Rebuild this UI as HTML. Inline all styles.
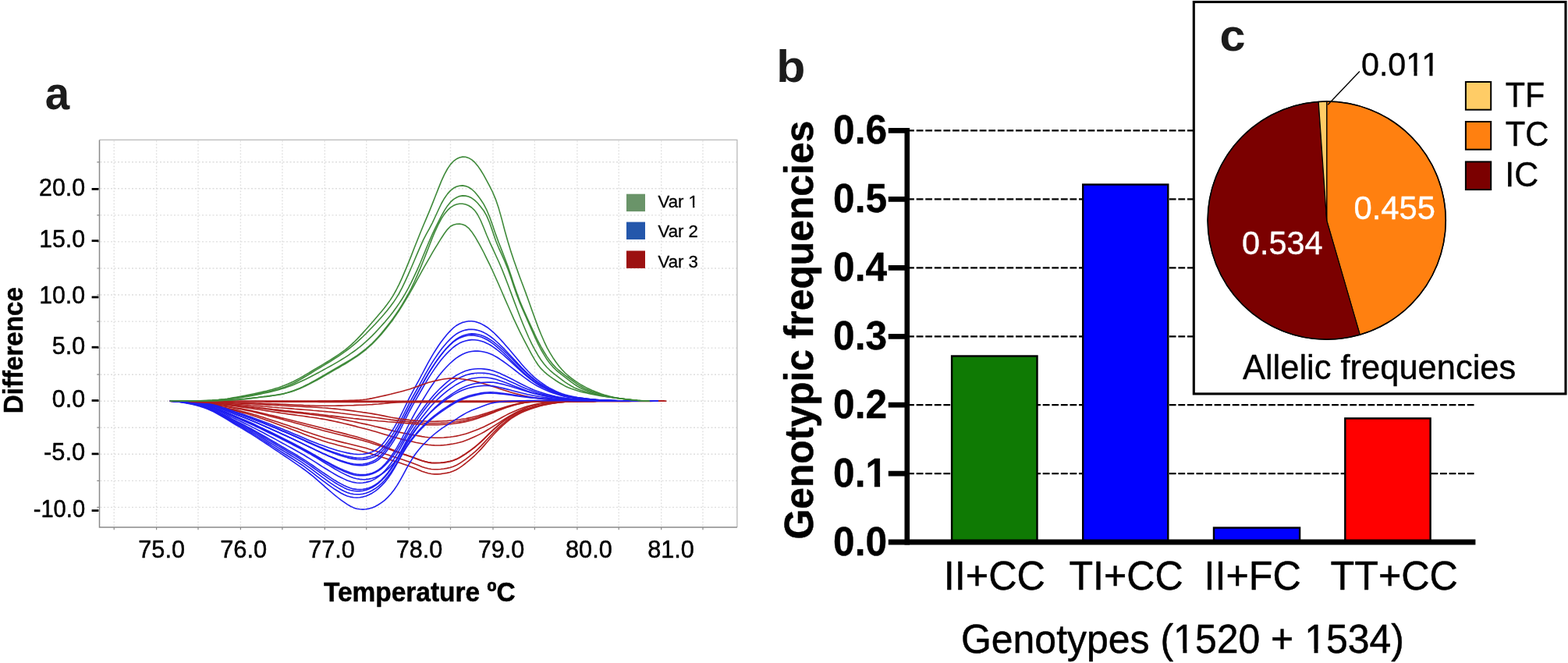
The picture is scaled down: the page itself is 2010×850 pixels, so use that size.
<!DOCTYPE html>
<html lang="en">
<head>
<meta charset="utf-8">
<title>HRM difference curves, genotypic and allelic frequencies</title>
<style>
html,body{margin:0;padding:0;background:#ffffff;}
body{width:2010px;height:850px;overflow:hidden;}
svg{display:block;}
text{font-family:"Liberation Sans",Arial,Helvetica,sans-serif;}
</style>
</head>
<body>
<svg width="2010" height="850" viewBox="0 0 2010 850" role="img" aria-label="Figure with panels a, b and c">
<rect x="0" y="0" width="2010" height="850" fill="#ffffff"/>
<g id="panel-a">
<rect x="127.5" y="179.4" width="817.4" height="496.6" fill="#ffffff" stroke="none"/>
<path d="M146.2 180.4V676.0M200.6 180.4V676.0M254.0 180.4V676.0M308.4 180.4V676.0M361.9 180.4V676.0M416.3 180.4V676.0M469.7 180.4V676.0M524.1 180.4V676.0M577.5 180.4V676.0M632.0 180.4V676.0M685.4 180.4V676.0M739.9 180.4V676.0M793.2 180.4V676.0M847.7 180.4V676.0M901.0 180.4V676.0" fill="none" stroke="#dedede" stroke-width="1.4" stroke-dasharray="1.8 2.2"/>
<path d="M128.5 650.4H944.9M128.5 616.4H944.9M128.5 582.3H944.9M128.5 548.2H944.9M128.5 514.2H944.9M128.5 480.2H944.9M128.5 446.1H944.9M128.5 412.1H944.9M128.5 378.0H944.9M128.5 344.0H944.9M128.5 309.9H944.9M128.5 275.9H944.9M128.5 241.8H944.9M128.5 207.8H944.9" fill="none" stroke="#dedede" stroke-width="1.4" stroke-dasharray="2 2.5"/>
<path d="M217.9 514.2L221.7 514.2L225.6 514.2L229.5 514.1L233.3 514.1L237.2 514.1L241.1 514.0L244.9 513.9L248.8 513.9L252.7 513.8L256.5 513.7L260.4 513.6L264.3 513.5L268.1 513.3L272.0 513.1L275.9 512.8L279.7 512.5L283.6 512.1L287.4 511.7L291.3 511.2L295.2 510.6L299.0 509.9L302.9 509.2L306.8 508.5L310.6 507.8L314.5 507.1L318.4 506.3L322.2 505.5L326.1 504.7L330.0 503.9L333.8 503.0L337.7 502.1L341.6 501.2L345.4 500.2L349.3 499.2L353.2 498.0L357.0 496.9L360.9 495.6L364.8 494.1L368.6 492.6L372.5 490.8L376.4 489.0L380.2 487.0L384.1 484.9L388.0 482.7L391.8 480.4L395.7 478.2L399.6 475.8L403.4 473.5L407.3 471.2L411.2 468.9L415.0 466.6L418.9 464.3L422.8 461.9L426.6 459.5L430.5 457.0L434.4 454.4L438.2 451.7L442.1 448.8L446.0 445.7L449.8 442.3L453.7 438.7L457.6 434.9L461.4 430.9L465.3 426.6L469.2 422.3L473.0 417.9L476.9 413.5L480.8 409.0L484.6 404.6L488.5 400.0L492.4 395.3L496.2 390.3L500.1 384.9L504.0 378.9L507.8 372.0L511.7 364.3L515.6 355.9L519.4 346.9L523.3 337.6L527.2 327.9L531.0 318.0L534.9 308.2L538.8 298.5L542.6 289.2L546.5 280.1L550.4 270.9L554.2 261.4L558.1 251.5L562.0 241.6L565.8 232.1L569.7 223.6L573.6 216.5L577.4 210.9L581.3 206.7L585.2 203.8L589.0 202.0L592.9 201.1L596.8 201.3L600.6 202.4L604.5 204.6L608.4 207.9L612.2 212.4L616.1 218.0L620.0 224.3L623.8 231.3L627.7 238.7L631.6 246.5L635.4 255.6L639.3 267.1L643.2 280.9L647.0 295.5L650.9 309.3L654.8 321.9L658.6 333.6L662.5 344.6L666.3 355.2L670.2 365.5L674.1 375.9L677.9 386.6L681.8 397.5L685.7 408.3L689.5 418.6L693.4 428.3L697.3 437.3L701.1 445.4L705.0 452.4L708.9 458.7L712.7 464.3L716.6 469.4L720.5 474.0L724.3 478.0L728.2 481.5L732.1 484.6L735.9 487.5L739.8 490.1L743.7 492.6L747.5 494.8L751.4 496.9L755.3 498.7L759.1 500.4L763.0 502.0L766.9 503.5L770.7 504.9L774.6 506.2L778.5 507.3L782.3 508.4L786.2 509.3L790.1 510.1L793.9 510.8L797.8 511.3L801.7 511.8L805.5 512.3L809.4 512.7L813.3 513.1L817.1 513.5L821.0 513.8L824.9 514.0L828.7 514.1L832.6 514.2" fill="none" stroke="#3f8a3a" stroke-width="1.6" stroke-linejoin="round"/>
<path d="M217.9 514.2L221.7 514.2L225.6 514.2L229.5 514.2L233.3 514.1L237.2 514.1L241.1 514.0L244.9 514.0L248.8 513.9L252.7 513.8L256.5 513.8L260.4 513.7L264.3 513.6L268.1 513.5L272.0 513.3L275.9 513.0L279.7 512.7L283.6 512.4L287.4 512.0L291.3 511.6L295.2 511.1L299.0 510.5L302.9 509.9L306.8 509.3L310.6 508.7L314.5 508.0L318.4 507.3L322.2 506.6L326.1 505.9L330.0 505.1L333.8 504.3L337.7 503.5L341.6 502.6L345.4 501.8L349.3 500.8L353.2 499.8L357.0 498.8L360.9 497.6L364.8 496.2L368.6 494.7L372.5 493.0L376.4 491.2L380.2 489.2L384.1 487.0L388.0 484.8L391.8 482.5L395.7 480.2L399.6 477.8L403.4 475.4L407.3 473.1L411.2 470.7L415.0 468.4L418.9 466.0L422.8 463.7L426.6 461.3L430.5 458.8L434.4 456.3L438.2 453.6L442.1 450.9L446.0 448.0L449.8 445.1L453.7 441.9L457.6 438.6L461.4 435.1L465.3 431.5L469.2 427.7L473.0 423.8L476.9 419.8L480.8 415.7L484.6 411.5L488.5 407.2L492.4 402.8L496.2 398.2L500.1 393.3L504.0 388.1L507.8 382.4L511.7 376.0L515.6 368.7L519.4 360.6L523.3 352.1L527.2 343.3L531.0 334.3L534.9 325.1L538.8 316.1L542.6 307.7L546.5 300.2L550.4 293.1L554.2 285.8L558.1 277.5L562.0 269.0L565.8 261.0L569.7 254.2L573.6 248.6L577.4 244.4L581.3 241.3L585.2 239.3L589.0 238.2L592.9 237.9L596.8 238.6L600.6 240.0L604.5 242.5L608.4 246.0L612.2 250.5L616.1 255.7L620.0 261.6L623.8 269.0L627.7 278.2L631.6 289.2L635.4 300.4L639.3 311.0L643.2 320.9L647.0 330.7L650.9 341.1L654.8 352.4L658.6 364.2L662.5 375.5L666.3 385.8L670.2 395.0L674.1 403.8L677.9 412.3L681.8 420.7L685.7 429.1L689.5 437.0L693.4 444.3L697.3 451.0L701.1 457.1L705.0 462.6L708.9 467.4L712.7 471.5L716.6 475.0L720.5 478.1L724.3 481.1L728.2 484.0L732.1 486.9L735.9 489.7L739.8 492.3L743.7 494.8L747.5 497.0L751.4 498.9L755.3 500.5L759.1 502.0L763.0 503.3L766.9 504.6L770.7 505.8L774.6 506.9L778.5 507.8L782.3 508.7L786.2 509.5L790.1 510.2L793.9 510.8L797.8 511.3L801.7 511.8L805.5 512.3L809.4 512.7L813.3 513.1L817.1 513.5L821.0 513.8L824.9 514.0L828.7 514.1L832.6 514.2" fill="none" stroke="#3f8a3a" stroke-width="1.6" stroke-linejoin="round"/>
<path d="M217.9 514.2L221.8 514.4L225.8 514.7L229.8 515.0L233.8 515.4L237.8 515.7L241.8 516.2L245.8 516.6L249.8 517.0L253.8 517.5L257.7 518.1L261.7 518.6L265.7 519.2L269.7 519.9L273.7 520.6L277.7 521.4L281.7 522.1L285.7 523.0L289.6 523.8L293.6 524.7L297.6 525.6L301.6 526.6L305.6 527.6L309.6 528.6L313.6 529.6L317.6 530.8L321.6 532.0L325.5 533.2L329.5 534.5L333.5 535.9L337.5 537.3L341.5 538.7L345.5 540.1L349.5 541.6L353.5 543.0L357.5 544.5L361.4 545.9L365.4 547.3L369.4 548.8L373.4 550.3L377.4 551.8L381.4 553.3L385.4 554.8L389.4 556.4L393.3 557.9L397.3 559.4L401.3 560.8L405.3 562.3L409.3 563.6L413.3 565.0L417.3 566.2L421.3 567.4L425.3 568.5L429.2 569.6L433.2 570.7L437.2 571.7L441.2 572.7L445.2 573.7L449.2 574.7L453.2 575.7L457.2 576.7L461.1 577.8L465.1 578.9L469.1 580.0L473.1 581.1L477.1 582.3L481.1 583.5L485.1 584.7L489.1 586.0L493.1 587.2L497.0 588.5L501.0 589.8L505.0 591.0L509.0 592.3L513.0 593.6L517.0 594.9L521.0 596.3L525.0 597.7L529.0 599.2L532.9 600.8L536.9 602.5L540.9 604.2L544.9 605.6L548.9 606.8L552.9 607.5L556.9 607.9L560.9 607.9L564.8 607.6L568.8 607.0L572.8 606.4L576.8 605.5L580.8 604.1L584.8 602.3L588.8 599.9L592.8 597.1L596.8 594.0L600.7 590.8L604.7 587.4L608.7 583.8L612.7 579.8L616.7 575.6L620.7 571.1L624.7 566.4L628.7 561.7L632.7 557.3L636.6 553.1L640.6 549.1L644.6 545.3L648.6 541.8L652.6 538.6L656.6 535.7L660.6 533.3L664.6 531.0L668.5 529.1L672.5 527.3L676.5 525.7L680.5 524.2L684.5 522.9L688.5 521.7L692.5 520.5L696.5 519.5L700.5 518.7L704.4 517.9L708.4 517.2L712.4 516.6L716.4 516.0L720.4 515.6L724.4 515.2L728.4 515.0L732.4 514.8L736.3 514.7L740.3 514.7L744.3 514.6L748.3 514.5L752.3 514.5L756.3 514.4L760.3 514.4L764.3 514.3L768.3 514.3L772.2 514.3L776.2 514.3L780.2 514.2L784.2 514.2L788.2 514.2L792.2 514.2L796.2 514.2L800.2 514.2L804.2 514.2L808.1 514.2L812.1 514.2L816.1 514.2L820.1 514.2L824.1 514.2L828.1 514.2L832.1 514.2L836.1 514.2L840.0 514.2L844.0 514.2L848.0 514.2L852.0 514.2" fill="none" stroke="#b01e1e" stroke-width="1.6" stroke-linejoin="round"/>
<path d="M217.9 514.2L221.8 514.4L225.8 514.7L229.8 514.9L233.8 515.3L237.8 515.6L241.8 516.0L245.8 516.4L249.8 516.8L253.8 517.2L257.7 517.7L261.7 518.2L265.7 518.8L269.7 519.4L273.7 520.0L277.7 520.7L281.7 521.4L285.7 522.2L289.6 522.9L293.6 523.7L297.6 524.6L301.6 525.4L305.6 526.3L309.6 527.2L313.6 528.2L317.6 529.2L321.6 530.3L325.5 531.5L329.5 532.6L333.5 533.9L337.5 535.1L341.5 536.4L345.5 537.7L349.5 539.0L353.5 540.3L357.5 541.6L361.4 542.9L365.4 544.2L369.4 545.5L373.4 546.9L377.4 548.2L381.4 549.6L385.4 551.0L389.4 552.4L393.3 553.7L397.3 555.1L401.3 556.4L405.3 557.7L409.3 559.0L413.3 560.2L417.3 561.4L421.3 562.5L425.3 563.6L429.2 564.6L433.2 565.6L437.2 566.6L441.2 567.6L445.2 568.5L449.2 569.5L453.2 570.5L457.2 571.5L461.1 572.5L465.1 573.5L469.1 574.6L473.1 575.8L477.1 576.9L481.1 578.1L485.1 579.3L489.1 580.6L493.1 581.9L497.0 583.1L501.0 584.4L505.0 585.7L509.0 587.0L513.0 588.3L517.0 589.6L521.0 590.9L525.0 592.2L529.0 593.7L532.9 595.2L536.9 596.8L540.9 598.4L544.9 599.7L548.9 600.8L552.9 601.5L556.9 601.8L560.9 601.8L564.8 601.5L568.8 601.0L572.8 600.4L576.8 599.5L580.8 598.3L584.8 596.6L588.8 594.3L592.8 591.7L596.8 588.8L600.7 585.8L604.7 582.7L608.7 579.3L612.7 575.6L616.7 571.6L620.7 567.4L624.7 563.0L628.7 558.7L632.7 554.5L636.6 550.6L640.6 546.9L644.6 543.3L648.6 540.0L652.6 537.0L656.6 534.3L660.6 532.0L664.6 530.0L668.5 528.1L672.5 526.4L676.5 524.9L680.5 523.6L684.5 522.3L688.5 521.2L692.5 520.1L696.5 519.2L700.5 518.4L704.4 517.7L708.4 517.0L712.4 516.4L716.4 515.9L720.4 515.5L724.4 515.1L728.4 514.9L732.4 514.8L736.3 514.7L740.3 514.6L744.3 514.6L748.3 514.5L752.3 514.5L756.3 514.4L760.3 514.4L764.3 514.3L768.3 514.3L772.2 514.3L776.2 514.2L780.2 514.2L784.2 514.2L788.2 514.2L792.2 514.2L796.2 514.2L800.2 514.2L804.2 514.2L808.1 514.2L812.1 514.2L816.1 514.2L820.1 514.2L824.1 514.2L828.1 514.2L832.1 514.2L836.1 514.2L840.0 514.2L844.0 514.2L848.0 514.2L852.0 514.2" fill="none" stroke="#b01e1e" stroke-width="1.6" stroke-linejoin="round"/>
<path d="M217.9 514.2L221.8 514.4L225.8 514.6L229.8 514.8L233.8 515.1L237.8 515.3L241.8 515.6L245.8 516.0L249.8 516.3L253.8 516.7L257.7 517.1L261.7 517.5L265.7 517.9L269.7 518.4L273.7 518.9L277.7 519.5L281.7 520.1L285.7 520.7L289.6 521.3L293.6 522.0L297.6 522.7L301.6 523.4L305.6 524.1L309.6 524.8L313.6 525.6L317.6 526.4L321.6 527.3L325.5 528.3L329.5 529.2L333.5 530.2L337.5 531.3L341.5 532.3L345.5 533.4L349.5 534.5L353.5 535.5L357.5 536.6L361.4 537.6L365.4 538.7L369.4 539.7L373.4 540.8L377.4 541.9L381.4 543.0L385.4 544.1L389.4 545.2L393.3 546.2L397.3 547.3L401.3 548.4L405.3 549.5L409.3 550.6L413.3 551.7L417.3 552.7L421.3 553.7L425.3 554.7L429.2 555.7L433.2 556.7L437.2 557.7L441.2 558.6L445.2 559.6L449.2 560.6L453.2 561.6L457.2 562.6L461.1 563.7L465.1 564.8L469.1 565.9L473.1 567.1L477.1 568.4L481.1 569.7L485.1 571.0L489.1 572.4L493.1 573.9L497.0 575.3L501.0 576.8L505.0 578.2L509.0 579.7L513.0 581.1L517.0 582.5L521.0 583.8L525.0 585.1L529.0 586.5L532.9 588.0L536.9 589.4L540.9 590.8L544.9 592.0L548.9 593.0L552.9 593.6L556.9 593.8L560.9 593.8L564.8 593.5L568.8 593.1L572.8 592.5L576.8 591.8L580.8 590.6L584.8 589.1L588.8 587.0L592.8 584.6L596.8 582.1L600.7 579.3L604.7 576.4L608.7 573.3L612.7 570.0L616.7 566.4L620.7 562.6L624.7 558.6L628.7 554.6L632.7 550.8L636.6 547.3L640.6 543.9L644.6 540.7L648.6 537.7L652.6 534.9L656.6 532.5L660.6 530.4L664.6 528.5L668.5 526.8L672.5 525.3L676.5 523.9L680.5 522.7L684.5 521.6L688.5 520.5L692.5 519.6L696.5 518.7L700.5 518.0L704.4 517.3L708.4 516.8L712.4 516.2L716.4 515.8L720.4 515.4L724.4 515.1L728.4 514.9L732.4 514.7L736.3 514.7L740.3 514.6L744.3 514.5L748.3 514.5L752.3 514.4L756.3 514.4L760.3 514.4L764.3 514.3L768.3 514.3L772.2 514.3L776.2 514.2L780.2 514.2L784.2 514.2L788.2 514.2L792.2 514.2L796.2 514.2L800.2 514.2L804.2 514.2L808.1 514.2L812.1 514.2L816.1 514.2L820.1 514.2L824.1 514.2L828.1 514.2L832.1 514.2L836.1 514.2L840.0 514.2L844.0 514.2L848.0 514.2L852.0 514.2" fill="none" stroke="#b01e1e" stroke-width="1.6" stroke-linejoin="round"/>
<path d="M217.9 514.2L221.8 514.4L225.8 514.5L229.8 514.8L233.8 515.0L237.8 515.3L241.8 515.5L245.8 515.8L249.8 516.1L253.8 516.5L257.7 516.8L261.7 517.2L265.7 517.6L269.7 518.1L273.7 518.6L277.7 519.1L281.7 519.6L285.7 520.2L289.6 520.8L293.6 521.4L297.6 522.0L301.6 522.7L305.6 523.3L309.6 524.0L313.6 524.8L317.6 525.5L321.6 526.4L325.5 527.2L329.5 528.1L333.5 529.1L337.5 530.0L341.5 531.0L345.5 532.0L349.5 532.9L353.5 533.9L357.5 534.9L361.4 535.9L365.4 536.8L369.4 537.8L373.4 538.8L377.4 539.8L381.4 540.8L385.4 541.7L389.4 542.7L393.3 543.8L397.3 544.8L401.3 545.8L405.3 546.8L409.3 547.8L413.3 548.8L417.3 549.9L421.3 550.9L425.3 551.9L429.2 552.9L433.2 553.9L437.2 554.9L441.2 555.9L445.2 556.9L449.2 558.0L453.2 559.0L457.2 560.1L461.1 561.3L465.1 562.4L469.1 563.7L473.1 565.0L477.1 566.3L481.1 567.8L485.1 569.3L489.1 570.8L493.1 572.4L497.0 574.1L501.0 575.7L505.0 577.3L509.0 578.9L513.0 580.4L517.0 581.9L521.0 583.3L525.0 584.7L529.0 586.1L532.9 587.6L536.9 589.0L540.9 590.4L544.9 591.6L548.9 592.5L552.9 593.1L556.9 593.4L560.9 593.3L564.8 593.1L568.8 592.7L572.8 592.1L576.8 591.3L580.8 590.2L584.8 588.6L588.8 586.6L592.8 584.2L596.8 581.7L600.7 578.9L604.7 576.1L608.7 573.0L612.7 569.7L616.7 566.1L620.7 562.3L624.7 558.3L628.7 554.4L632.7 550.6L636.6 547.1L640.6 543.7L644.6 540.5L648.6 537.5L652.6 534.8L656.6 532.4L660.6 530.3L664.6 528.4L668.5 526.8L672.5 525.2L676.5 523.9L680.5 522.7L684.5 521.5L688.5 520.5L692.5 519.6L696.5 518.7L700.5 518.0L704.4 517.3L708.4 516.8L712.4 516.2L716.4 515.8L720.4 515.4L724.4 515.1L728.4 514.9L732.4 514.7L736.3 514.7L740.3 514.6L744.3 514.5L748.3 514.5L752.3 514.4L756.3 514.4L760.3 514.4L764.3 514.3L768.3 514.3L772.2 514.3L776.2 514.2L780.2 514.2L784.2 514.2L788.2 514.2L792.2 514.2L796.2 514.2L800.2 514.2L804.2 514.2L808.1 514.2L812.1 514.2L816.1 514.2L820.1 514.2L824.1 514.2L828.1 514.2L832.1 514.2L836.1 514.2L840.0 514.2L844.0 514.2L848.0 514.2L852.0 514.2" fill="none" stroke="#b01e1e" stroke-width="1.6" stroke-linejoin="round"/>
<path d="M217.9 514.2L221.8 514.3L225.8 514.5L229.8 514.7L233.8 514.9L237.8 515.1L241.8 515.3L245.8 515.6L249.8 515.8L253.8 516.1L257.7 516.4L261.7 516.7L265.7 517.0L269.7 517.3L273.7 517.7L277.7 518.1L281.7 518.5L285.7 518.9L289.6 519.4L293.6 519.8L297.6 520.3L301.6 520.8L305.6 521.3L309.6 521.9L313.6 522.4L317.6 522.9L321.6 523.5L325.5 524.1L329.5 524.7L333.5 525.3L337.5 526.0L341.5 526.6L345.5 527.2L349.5 527.9L353.5 528.5L357.5 529.1L361.4 529.7L365.4 530.3L369.4 530.9L373.4 531.4L377.4 531.9L381.4 532.5L385.4 533.0L389.4 533.5L393.3 534.1L397.3 534.7L401.3 535.2L405.3 535.8L409.3 536.5L413.3 537.1L417.3 537.8L421.3 538.6L425.3 539.4L429.2 540.2L433.2 541.1L437.2 542.0L441.2 543.0L445.2 543.9L449.2 544.9L453.2 545.9L457.2 546.9L461.1 548.0L465.1 549.0L469.1 550.0L473.1 551.1L477.1 552.2L481.1 553.3L485.1 554.5L489.1 555.7L493.1 556.9L497.0 558.1L501.0 559.3L505.0 560.4L509.0 561.5L513.0 562.6L517.0 563.6L521.0 564.6L525.0 565.4L529.0 566.3L532.9 567.2L536.9 568.0L540.9 568.8L544.9 569.6L548.9 570.2L552.9 570.6L556.9 570.9L560.9 571.0L564.8 570.9L568.8 570.6L572.8 570.2L576.8 569.6L580.8 569.0L584.8 568.3L588.8 567.3L592.8 566.2L596.8 564.8L600.7 563.3L604.7 561.6L608.7 559.8L612.7 557.9L616.7 555.9L620.7 553.7L624.7 551.3L628.7 548.9L632.7 546.4L636.6 543.9L640.6 541.3L644.6 538.7L648.6 536.1L652.6 533.7L656.6 531.4L660.6 529.2L664.6 527.2L668.5 525.4L672.5 523.6L676.5 522.1L680.5 520.8L684.5 519.7L688.5 518.7L692.5 517.8L696.5 517.1L700.5 516.4L704.4 515.9L708.4 515.6L712.4 515.3L716.4 515.0L720.4 514.8L724.4 514.6L728.4 514.4L732.4 514.3L736.3 514.3L740.3 514.2L744.3 514.2L748.3 514.2L752.3 514.2L756.3 514.2L760.3 514.2L764.3 514.2L768.3 514.2L772.2 514.2L776.2 514.2L780.2 514.2L784.2 514.2L788.2 514.2L792.2 514.2L796.2 514.2L800.2 514.2L804.2 514.2L808.1 514.2L812.1 514.2L816.1 514.2L820.1 514.2L824.1 514.2L828.1 514.2L832.1 514.2L836.1 514.2L840.0 514.2L844.0 514.2L848.0 514.2L852.0 514.2" fill="none" stroke="#b01e1e" stroke-width="1.6" stroke-linejoin="round"/>
<path d="M217.9 514.2L221.8 514.3L225.8 514.4L229.8 514.6L233.8 514.7L237.8 514.9L241.8 515.1L245.8 515.3L249.8 515.5L253.8 515.8L257.7 516.0L261.7 516.2L265.7 516.5L269.7 516.8L273.7 517.1L277.7 517.4L281.7 517.7L285.7 518.1L289.6 518.5L293.6 518.9L297.6 519.3L301.6 519.7L305.6 520.1L309.6 520.6L313.6 521.0L317.6 521.5L321.6 521.9L325.5 522.4L329.5 522.9L333.5 523.5L337.5 524.0L341.5 524.5L345.5 525.0L349.5 525.5L353.5 526.1L357.5 526.6L361.4 527.1L365.4 527.6L369.4 528.0L373.4 528.5L377.4 528.9L381.4 529.4L385.4 529.8L389.4 530.3L393.3 530.7L397.3 531.2L401.3 531.7L405.3 532.2L409.3 532.7L413.3 533.2L417.3 533.8L421.3 534.4L425.3 535.1L429.2 535.8L433.2 536.5L437.2 537.3L441.2 538.1L445.2 538.9L449.2 539.7L453.2 540.5L457.2 541.4L461.1 542.2L465.1 543.1L469.1 543.9L473.1 544.8L477.1 545.7L481.1 546.7L485.1 547.6L489.1 548.6L493.1 549.6L497.0 550.6L501.0 551.6L505.0 552.6L509.0 553.5L513.0 554.4L517.0 555.2L521.0 556.0L525.0 556.7L529.0 557.5L532.9 558.2L536.9 558.9L540.9 559.6L544.9 560.2L548.9 560.7L552.9 561.0L556.9 561.3L560.9 561.3L564.8 561.2L568.8 561.0L572.8 560.6L576.8 560.2L580.8 559.7L584.8 559.1L588.8 558.3L592.8 557.3L596.8 556.2L600.7 554.9L604.7 553.5L608.7 552.1L612.7 550.5L616.7 548.8L620.7 547.0L624.7 545.0L628.7 543.0L632.7 541.0L636.6 538.9L640.6 536.7L644.6 534.5L648.6 532.4L652.6 530.3L656.6 528.5L660.6 526.7L664.6 525.0L668.5 523.5L672.5 522.0L676.5 520.8L680.5 519.7L684.5 518.7L688.5 517.9L692.5 517.2L696.5 516.6L700.5 516.1L704.4 515.6L708.4 515.3L712.4 515.1L716.4 514.9L720.4 514.7L724.4 514.5L728.4 514.4L732.4 514.3L736.3 514.2L740.3 514.2L744.3 514.2L748.3 514.2L752.3 514.2L756.3 514.2L760.3 514.2L764.3 514.2L768.3 514.2L772.2 514.2L776.2 514.2L780.2 514.2L784.2 514.2L788.2 514.2L792.2 514.2L796.2 514.2L800.2 514.2L804.2 514.2L808.1 514.2L812.1 514.2L816.1 514.2L820.1 514.2L824.1 514.2L828.1 514.2L832.1 514.2L836.1 514.2L840.0 514.2L844.0 514.2L848.0 514.2L852.0 514.2" fill="none" stroke="#b01e1e" stroke-width="1.6" stroke-linejoin="round"/>
<path d="M217.9 514.2L221.8 514.2L225.8 514.3L229.8 514.4L233.8 514.5L237.8 514.7L241.8 514.9L245.8 515.1L249.8 515.3L253.8 515.6L257.7 516.0L261.7 516.5L265.7 517.2L269.7 518.0L273.7 519.0L277.7 520.1L281.7 521.3L285.7 522.5L289.6 523.8L293.6 525.2L297.6 526.5L301.6 527.9L305.6 529.2L309.6 530.5L313.6 531.8L317.6 533.2L321.6 534.5L325.5 536.0L329.5 537.4L333.5 538.9L337.5 540.4L341.5 542.0L345.5 543.5L349.5 545.1L353.5 546.7L357.5 548.2L361.4 549.8L365.4 551.4L369.4 553.0L373.4 554.7L377.4 556.4L381.4 558.1L385.4 559.8L389.4 561.5L393.3 563.2L397.3 564.9L401.3 566.5L405.3 568.1L409.3 569.7L413.3 571.1L417.3 572.5L421.3 573.9L425.3 575.2L429.2 576.5L433.2 577.7L437.2 578.8L441.2 579.7L445.2 580.6L449.2 581.4L453.2 582.0L457.2 582.4L461.1 582.5L465.1 582.3L469.1 581.6L473.1 580.7L477.1 579.3L481.1 577.5L485.1 574.7L489.1 570.9L493.1 566.1L497.0 560.7L501.0 554.9L505.0 548.6L509.0 541.6L513.0 534.1L517.0 526.0L521.0 517.8L525.0 509.7L529.0 502.1L532.9 494.9L536.9 487.6L540.9 480.0L544.9 472.3L548.9 464.9L552.9 457.8L556.9 451.2L560.9 445.0L564.8 439.2L568.8 433.9L572.8 429.0L576.8 424.6L580.8 420.7L584.8 417.5L588.8 415.2L592.8 413.6L596.8 412.5L600.7 411.8L604.7 411.8L608.7 412.3L612.7 413.5L616.7 415.1L620.7 417.2L624.7 419.7L628.7 422.8L632.7 426.3L636.6 430.1L640.6 434.3L644.6 438.6L648.6 443.2L652.6 447.8L656.6 452.6L660.6 457.3L664.6 462.1L668.5 466.7L672.5 471.2L676.5 475.5L680.5 479.5L684.5 483.3L688.5 486.6L692.5 489.7L696.5 492.5L700.5 495.1L704.4 497.4L708.4 499.5L712.4 501.5L716.4 503.2L720.4 504.8L724.4 506.1L728.4 507.1L732.4 508.0L736.3 508.8L740.3 509.5L744.3 510.0L748.3 510.6L752.3 511.1L756.3 511.6L760.3 512.0L764.3 512.4L768.3 512.7L772.2 512.9L776.2 513.1L780.2 513.3L784.2 513.4L788.2 513.5L792.2 513.7L796.2 513.8L800.2 513.9L804.2 514.0L808.1 514.0L812.1 514.1L816.1 514.1L820.1 514.2L824.1 514.2L828.1 514.2L832.1 514.2L836.1 514.2L840.0 514.2L844.0 514.2" fill="none" stroke="#1f1ff0" stroke-width="1.6" stroke-linejoin="round"/>
<path d="M217.9 514.2L221.8 514.2L225.8 514.3L229.8 514.5L233.8 514.6L237.8 514.8L241.8 515.1L245.8 515.3L249.8 515.6L253.8 515.9L257.7 516.4L261.7 516.9L265.7 517.7L269.7 518.6L273.7 519.6L277.7 520.8L281.7 522.0L285.7 523.4L289.6 524.8L293.6 526.2L297.6 527.6L301.6 529.0L305.6 530.4L309.6 531.7L313.6 533.1L317.6 534.5L321.6 536.0L325.5 537.5L329.5 539.0L333.5 540.6L337.5 542.1L341.5 543.8L345.5 545.4L349.5 547.0L353.5 548.6L357.5 550.3L361.4 551.9L365.4 553.6L369.4 555.3L373.4 557.0L377.4 558.7L381.4 560.5L385.4 562.3L389.4 564.1L393.3 565.8L397.3 567.6L401.3 569.3L405.3 571.1L409.3 572.7L413.3 574.3L417.3 575.9L421.3 577.4L425.3 578.9L429.2 580.3L433.2 581.6L437.2 582.9L441.2 584.0L445.2 585.0L449.2 585.8L453.2 586.6L457.2 587.1L461.1 587.2L465.1 587.0L469.1 586.4L473.1 585.4L477.1 584.1L481.1 582.3L485.1 579.6L489.1 575.9L493.1 571.4L497.0 566.2L501.0 560.6L505.0 554.4L509.0 547.7L513.0 540.3L517.0 532.4L521.0 524.3L525.0 516.4L529.0 509.0L532.9 502.0L536.9 495.0L540.9 487.7L544.9 480.4L548.9 473.3L552.9 466.7L556.9 460.4L560.9 454.5L564.8 449.0L568.8 443.9L572.8 439.3L576.8 435.1L580.8 431.3L584.8 428.3L588.8 426.0L592.8 424.3L596.8 423.1L600.7 422.4L604.7 422.2L608.7 422.6L612.7 423.5L616.7 424.8L620.7 426.6L624.7 428.8L628.7 431.5L632.7 434.6L636.6 438.0L640.6 441.7L644.6 445.6L648.6 449.7L652.6 454.0L656.6 458.3L660.6 462.6L664.6 466.8L668.5 471.0L672.5 475.1L676.5 479.0L680.5 482.7L684.5 486.1L688.5 489.1L692.5 491.9L696.5 494.5L700.5 496.8L704.4 498.9L708.4 500.8L712.4 502.6L716.4 504.2L720.4 505.6L724.4 506.8L728.4 507.8L732.4 508.6L736.3 509.3L740.3 509.9L744.3 510.4L748.3 510.9L752.3 511.4L756.3 511.8L760.3 512.2L764.3 512.5L768.3 512.8L772.2 513.0L776.2 513.2L780.2 513.4L784.2 513.5L788.2 513.6L792.2 513.7L796.2 513.8L800.2 513.9L804.2 514.0L808.1 514.0L812.1 514.1L816.1 514.1L820.1 514.2L824.1 514.2L828.1 514.2L832.1 514.2L836.1 514.2L840.0 514.2L844.0 514.2" fill="none" stroke="#1f1ff0" stroke-width="1.6" stroke-linejoin="round"/>
<path d="M217.9 514.2L221.8 514.2L225.8 514.3L229.8 514.5L233.8 514.7L237.8 514.9L241.8 515.1L245.8 515.4L249.8 515.7L253.8 516.1L257.7 516.5L261.7 517.1L265.7 517.9L269.7 518.8L273.7 519.8L277.7 521.0L281.7 522.3L285.7 523.6L289.6 525.0L293.6 526.4L297.6 527.9L301.6 529.3L305.6 530.7L309.6 532.1L313.6 533.5L317.6 534.9L321.6 536.4L325.5 537.9L329.5 539.4L333.5 541.0L337.5 542.5L341.5 544.2L345.5 545.8L349.5 547.4L353.5 549.1L357.5 550.7L361.4 552.4L365.4 554.0L369.4 555.8L373.4 557.5L377.4 559.2L381.4 561.0L385.4 562.8L389.4 564.6L393.3 566.5L397.3 568.3L401.3 570.1L405.3 571.8L409.3 573.6L413.3 575.3L417.3 576.9L421.3 578.5L425.3 580.0L429.2 581.5L433.2 583.0L437.2 584.3L441.2 585.5L445.2 586.6L449.2 587.6L453.2 588.4L457.2 589.0L461.1 589.2L465.1 589.1L469.1 588.6L473.1 587.8L477.1 586.6L481.1 585.0L485.1 582.6L489.1 579.2L493.1 575.0L497.0 570.1L501.0 564.7L505.0 558.9L509.0 552.4L513.0 545.3L517.0 537.7L521.0 529.7L525.0 521.9L529.0 514.5L532.9 507.5L536.9 500.7L540.9 493.6L544.9 486.6L548.9 479.7L552.9 473.1L556.9 466.9L560.9 461.1L564.8 455.7L568.8 450.7L572.8 446.1L576.8 441.9L580.8 438.1L584.8 434.9L588.8 432.4L592.8 430.6L596.8 429.2L600.7 428.3L604.7 427.9L608.7 428.1L612.7 428.7L616.7 429.8L620.7 431.3L624.7 433.2L628.7 435.6L632.7 438.3L636.6 441.5L640.6 444.9L644.6 448.5L648.6 452.3L652.6 456.3L656.6 460.3L660.6 464.4L664.6 468.4L668.5 472.4L672.5 476.2L676.5 480.0L680.5 483.5L684.5 486.7L688.5 489.7L692.5 492.4L696.5 494.9L700.5 497.1L704.4 499.2L708.4 501.1L712.4 502.9L716.4 504.4L720.4 505.8L724.4 507.0L728.4 507.9L732.4 508.7L736.3 509.4L740.3 510.0L744.3 510.5L748.3 511.0L752.3 511.5L756.3 511.9L760.3 512.2L764.3 512.6L768.3 512.8L772.2 513.1L776.2 513.2L780.2 513.4L784.2 513.5L788.2 513.6L792.2 513.7L796.2 513.8L800.2 513.9L804.2 514.0L808.1 514.1L812.1 514.1L816.1 514.1L820.1 514.2L824.1 514.2L828.1 514.2L832.1 514.2L836.1 514.2L840.0 514.2L844.0 514.2" fill="none" stroke="#1f1ff0" stroke-width="1.6" stroke-linejoin="round"/>
<path d="M217.9 514.2L221.8 514.3L225.8 514.4L229.8 514.5L233.8 514.8L237.8 515.0L241.8 515.3L245.8 515.6L249.8 516.0L253.8 516.4L257.7 516.9L261.7 517.6L265.7 518.5L269.7 519.5L273.7 520.7L277.7 522.0L281.7 523.4L285.7 524.9L289.6 526.4L293.6 527.9L297.6 529.5L301.6 531.0L305.6 532.6L309.6 534.1L313.6 535.6L317.6 537.2L321.6 538.8L325.5 540.4L329.5 542.1L333.5 543.8L337.5 545.6L341.5 547.3L345.5 549.1L349.5 550.9L353.5 552.7L357.5 554.5L361.4 556.3L365.4 558.1L369.4 559.9L373.4 561.8L377.4 563.7L381.4 565.6L385.4 567.5L389.4 569.5L393.3 571.4L397.3 573.3L401.3 575.3L405.3 577.2L409.3 579.0L413.3 580.9L417.3 582.6L421.3 584.4L425.3 586.0L429.2 587.6L433.2 589.2L437.2 590.6L441.2 591.8L445.2 593.0L449.2 594.0L453.2 594.8L457.2 595.2L461.1 595.3L465.1 595.0L469.1 594.4L473.1 593.3L477.1 591.8L481.1 589.7L485.1 586.8L489.1 582.9L493.1 578.2L497.0 572.9L501.0 567.1L505.0 560.7L509.0 553.7L513.0 546.0L517.0 537.9L521.0 529.7L525.0 521.9L529.0 514.5L532.9 507.4L536.9 500.3L540.9 493.1L544.9 486.0L548.9 479.2L552.9 472.7L556.9 466.6L560.9 460.9L564.8 455.7L568.8 450.8L572.8 446.3L576.8 442.3L580.8 438.7L584.8 435.8L588.8 433.6L592.8 431.9L596.8 430.7L600.7 430.0L604.7 429.8L608.7 430.1L612.7 430.9L616.7 432.1L620.7 433.8L624.7 435.8L628.7 438.3L632.7 441.2L636.6 444.4L640.6 447.8L644.6 451.5L648.6 455.3L652.6 459.3L656.6 463.2L660.6 467.2L664.6 471.2L668.5 475.0L672.5 478.8L676.5 482.3L680.5 485.7L684.5 488.7L688.5 491.5L692.5 494.0L696.5 496.4L700.5 498.4L704.4 500.4L708.4 502.1L712.4 503.7L716.4 505.2L720.4 506.4L724.4 507.4L728.4 508.3L732.4 509.1L736.3 509.7L740.3 510.2L744.3 510.7L748.3 511.2L752.3 511.6L756.3 512.0L760.3 512.3L764.3 512.6L768.3 512.9L772.2 513.1L776.2 513.3L780.2 513.4L784.2 513.5L788.2 513.6L792.2 513.7L796.2 513.8L800.2 513.9L804.2 514.0L808.1 514.1L812.1 514.1L816.1 514.1L820.1 514.2L824.1 514.2L828.1 514.2L832.1 514.2L836.1 514.2L840.0 514.2L844.0 514.2" fill="none" stroke="#1f1ff0" stroke-width="1.6" stroke-linejoin="round"/>
<path d="M217.9 514.2L221.8 514.3L225.8 514.4L229.8 514.6L233.8 514.8L237.8 515.1L241.8 515.4L245.8 515.7L249.8 516.1L253.8 516.5L257.7 517.1L261.7 517.8L265.7 518.6L269.7 519.6L273.7 520.8L277.7 522.1L281.7 523.5L285.7 525.0L289.6 526.5L293.6 528.1L297.6 529.6L301.6 531.2L305.6 532.7L309.6 534.2L313.6 535.8L317.6 537.3L321.6 538.9L325.5 540.6L329.5 542.2L333.5 543.9L337.5 545.7L341.5 547.4L345.5 549.2L349.5 551.0L353.5 552.8L357.5 554.6L361.4 556.4L365.4 558.2L369.4 560.0L373.4 561.9L377.4 563.8L381.4 565.7L385.4 567.6L389.4 569.6L393.3 571.5L397.3 573.5L401.3 575.4L405.3 577.4L409.3 579.3L413.3 581.2L417.3 583.0L421.3 584.8L425.3 586.6L429.2 588.3L433.2 589.9L437.2 591.4L441.2 592.7L445.2 594.0L449.2 595.1L453.2 596.0L457.2 596.5L461.1 596.8L465.1 596.6L469.1 596.1L473.1 595.1L477.1 593.8L481.1 592.0L485.1 589.4L489.1 585.8L493.1 581.4L497.0 576.4L501.0 570.9L505.0 564.8L509.0 558.1L513.0 550.8L517.0 542.9L521.0 534.9L525.0 527.0L529.0 519.7L532.9 512.8L536.9 506.0L540.9 499.0L544.9 492.0L548.9 485.4L552.9 479.1L556.9 473.1L560.9 467.5L564.8 462.3L568.8 457.5L572.8 453.1L576.8 449.1L580.8 445.5L584.8 442.5L588.8 440.1L592.8 438.3L596.8 437.0L600.7 436.1L604.7 435.6L608.7 435.7L612.7 436.3L616.7 437.3L620.7 438.6L624.7 440.4L628.7 442.5L632.7 445.1L636.6 448.0L640.6 451.2L644.6 454.5L648.6 458.1L652.6 461.7L656.6 465.4L660.6 469.2L664.6 472.9L668.5 476.5L672.5 480.1L676.5 483.4L680.5 486.6L684.5 489.6L688.5 492.3L692.5 494.7L696.5 496.9L700.5 498.9L704.4 500.8L708.4 502.5L712.4 504.0L716.4 505.4L720.4 506.7L724.4 507.7L728.4 508.5L732.4 509.3L736.3 509.9L740.3 510.4L744.3 510.9L748.3 511.3L752.3 511.7L756.3 512.1L760.3 512.4L764.3 512.7L768.3 513.0L772.2 513.2L776.2 513.3L780.2 513.4L784.2 513.6L788.2 513.7L792.2 513.8L796.2 513.8L800.2 513.9L804.2 514.0L808.1 514.1L812.1 514.1L816.1 514.1L820.1 514.2L824.1 514.2L828.1 514.2L832.1 514.2L836.1 514.2L840.0 514.2L844.0 514.2" fill="none" stroke="#1f1ff0" stroke-width="1.6" stroke-linejoin="round"/>
<path d="M217.9 514.2L221.8 514.3L225.8 514.5L229.8 514.7L233.8 515.0L237.8 515.4L241.8 515.8L245.8 516.2L249.8 516.7L253.8 517.2L257.7 517.9L261.7 518.6L265.7 519.6L269.7 520.8L273.7 522.1L277.7 523.5L281.7 525.0L285.7 526.7L289.6 528.3L293.6 530.1L297.6 531.8L301.6 533.5L305.6 535.2L309.6 536.9L313.6 538.6L317.6 540.3L321.6 542.1L325.5 543.8L329.5 545.7L333.5 547.6L337.5 549.4L341.5 551.4L345.5 553.3L349.5 555.3L353.5 557.2L357.5 559.2L361.4 561.2L365.4 563.2L369.4 565.2L373.4 567.2L377.4 569.3L381.4 571.4L385.4 573.5L389.4 575.6L393.3 577.8L397.3 580.0L401.3 582.2L405.3 584.5L409.3 586.7L413.3 589.0L417.3 591.1L421.3 593.3L425.3 595.4L429.2 597.4L433.2 599.4L437.2 601.3L441.2 603.0L445.2 604.5L449.2 606.0L453.2 607.2L457.2 608.0L461.1 608.5L465.1 608.6L469.1 608.2L473.1 607.5L477.1 606.4L481.1 604.7L485.1 602.4L489.1 599.3L493.1 595.4L497.0 590.7L501.0 585.5L505.0 579.8L509.0 573.4L513.0 566.3L517.0 558.5L521.0 550.5L525.0 542.5L529.0 534.9L532.9 527.9L536.9 521.2L540.9 514.5L544.9 507.8L548.9 501.4L552.9 495.3L556.9 489.5L560.9 484.1L564.8 479.0L568.8 474.3L572.8 470.0L576.8 466.0L580.8 462.4L584.8 459.2L588.8 456.5L592.8 454.3L596.8 452.6L600.7 451.3L604.7 450.5L608.7 450.1L612.7 450.1L616.7 450.5L620.7 451.2L624.7 452.3L628.7 453.8L632.7 455.6L636.6 457.8L640.6 460.3L644.6 463.0L648.6 465.8L652.6 468.8L656.6 471.9L660.6 475.0L664.6 478.1L668.5 481.2L672.5 484.2L676.5 487.0L680.5 489.8L684.5 492.4L688.5 494.7L692.5 496.8L696.5 498.8L700.5 500.6L704.4 502.2L708.4 503.7L712.4 505.1L716.4 506.3L720.4 507.4L724.4 508.4L728.4 509.2L732.4 509.8L736.3 510.4L740.3 510.8L744.3 511.3L748.3 511.6L752.3 512.0L756.3 512.3L760.3 512.6L764.3 512.9L768.3 513.1L772.2 513.3L776.2 513.4L780.2 513.5L784.2 513.6L788.2 513.7L792.2 513.8L796.2 513.9L800.2 514.0L804.2 514.0L808.1 514.1L812.1 514.1L816.1 514.2L820.1 514.2L824.1 514.2L828.1 514.2L832.1 514.2L836.1 514.2L840.0 514.2L844.0 514.2" fill="none" stroke="#1f1ff0" stroke-width="1.6" stroke-linejoin="round"/>
<path d="M217.9 514.2L221.8 514.3L225.8 514.5L229.8 514.8L233.8 515.1L237.8 515.5L241.8 516.0L245.8 516.5L249.8 517.0L253.8 517.6L257.7 518.3L261.7 519.2L265.7 520.2L269.7 521.4L273.7 522.8L277.7 524.3L281.7 525.8L285.7 527.5L289.6 529.2L293.6 530.9L297.6 532.7L301.6 534.4L305.6 536.1L309.6 537.8L313.6 539.5L317.6 541.2L321.6 543.0L325.5 544.8L329.5 546.6L333.5 548.5L337.5 550.4L341.5 552.3L345.5 554.3L349.5 556.2L353.5 558.2L357.5 560.1L361.4 562.1L365.4 564.1L369.4 566.1L373.4 568.1L377.4 570.1L381.4 572.1L385.4 574.2L389.4 576.3L393.3 578.5L397.3 580.7L401.3 582.9L405.3 585.2L409.3 587.5L413.3 589.9L417.3 592.1L421.3 594.4L425.3 596.5L429.2 598.7L433.2 600.7L437.2 602.6L441.2 604.4L445.2 606.0L449.2 607.5L453.2 608.7L457.2 609.5L461.1 609.8L465.1 609.8L469.1 609.4L473.1 608.7L477.1 607.5L481.1 605.8L485.1 603.6L489.1 600.6L493.1 597.0L497.0 592.9L501.0 588.2L505.0 583.0L509.0 577.1L513.0 570.6L517.0 563.5L521.0 556.3L525.0 549.3L529.0 542.9L532.9 536.9L536.9 531.3L540.9 525.7L544.9 520.2L548.9 515.1L552.9 510.2L556.9 505.5L560.9 501.2L564.8 497.3L568.8 493.6L572.8 490.1L576.8 486.9L580.8 484.0L584.8 481.3L588.8 479.1L592.8 477.2L596.8 475.6L600.7 474.4L604.7 473.5L608.7 473.0L612.7 472.8L616.7 472.8L620.7 473.1L624.7 473.6L628.7 474.4L632.7 475.5L636.6 476.9L640.6 478.6L644.6 480.4L648.6 482.3L652.6 484.3L656.6 486.3L660.6 488.4L664.6 490.5L668.5 492.5L672.5 494.5L676.5 496.4L680.5 498.2L684.5 499.9L688.5 501.4L692.5 502.8L696.5 504.1L700.5 505.3L704.4 506.3L708.4 507.3L712.4 508.2L716.4 509.0L720.4 509.7L724.4 510.3L728.4 510.8L732.4 511.3L736.3 511.6L740.3 511.9L744.3 512.2L748.3 512.5L752.3 512.7L756.3 512.9L760.3 513.1L764.3 513.3L768.3 513.4L772.2 513.6L776.2 513.7L780.2 513.7L784.2 513.8L788.2 513.9L792.2 513.9L796.2 514.0L800.2 514.0L804.2 514.1L808.1 514.1L812.1 514.1L816.1 514.2L820.1 514.2L824.1 514.2L828.1 514.2L832.1 514.2L836.1 514.2L840.0 514.2L844.0 514.2" fill="none" stroke="#1f1ff0" stroke-width="1.6" stroke-linejoin="round"/>
<path d="M217.9 514.2L221.8 514.3L225.8 514.6L229.8 514.9L233.8 515.3L237.8 515.7L241.8 516.3L245.8 516.9L249.8 517.5L253.8 518.2L257.7 519.0L261.7 520.0L265.7 521.2L269.7 522.6L273.7 524.1L277.7 525.7L281.7 527.5L285.7 529.3L289.6 531.2L293.6 533.2L297.6 535.1L301.6 537.0L305.6 538.9L309.6 540.8L313.6 542.7L317.6 544.6L321.6 546.6L325.5 548.6L329.5 550.6L333.5 552.7L337.5 554.8L341.5 557.0L345.5 559.1L349.5 561.3L353.5 563.4L357.5 565.6L361.4 567.8L365.4 569.9L369.4 572.1L373.4 574.3L377.4 576.5L381.4 578.7L385.4 581.0L389.4 583.3L393.3 585.7L397.3 588.1L401.3 590.6L405.3 593.2L409.3 595.7L413.3 598.3L417.3 600.8L421.3 603.2L425.3 605.6L429.2 608.0L433.2 610.2L437.2 612.2L441.2 614.1L445.2 615.9L449.2 617.3L453.2 618.4L457.2 619.0L461.1 619.2L465.1 619.0L469.1 618.4L473.1 617.4L477.1 615.9L481.1 613.9L485.1 611.2L489.1 607.8L493.1 603.9L497.0 599.3L501.0 594.2L505.0 588.5L509.0 582.0L513.0 574.9L517.0 567.5L521.0 560.1L525.0 553.2L529.0 546.8L532.9 540.9L536.9 535.1L540.9 529.6L544.9 524.3L548.9 519.3L552.9 514.5L556.9 510.1L560.9 505.9L564.8 502.1L568.8 498.6L572.8 495.3L576.8 492.1L580.8 489.3L584.8 486.7L588.8 484.5L592.8 482.7L596.8 481.1L600.7 479.9L604.7 479.1L608.7 478.5L612.7 478.3L616.7 478.2L620.7 478.4L624.7 478.8L628.7 479.5L632.7 480.5L636.6 481.8L640.6 483.3L644.6 484.9L648.6 486.6L652.6 488.4L656.6 490.3L660.6 492.1L664.6 493.9L668.5 495.7L672.5 497.4L676.5 499.1L680.5 500.6L684.5 502.1L688.5 503.4L692.5 504.5L696.5 505.6L700.5 506.6L704.4 507.5L708.4 508.4L712.4 509.1L716.4 509.8L720.4 510.4L724.4 510.9L728.4 511.3L732.4 511.6L736.3 511.9L740.3 512.2L744.3 512.5L748.3 512.7L752.3 512.9L756.3 513.1L760.3 513.2L764.3 513.4L768.3 513.5L772.2 513.6L776.2 513.7L780.2 513.8L784.2 513.8L788.2 513.9L792.2 514.0L796.2 514.0L800.2 514.0L804.2 514.1L808.1 514.1L812.1 514.1L816.1 514.2L820.1 514.2L824.1 514.2L828.1 514.2L832.1 514.2L836.1 514.2L840.0 514.2L844.0 514.2" fill="none" stroke="#1f1ff0" stroke-width="1.6" stroke-linejoin="round"/>
<path d="M217.9 514.2L221.8 514.3L225.8 514.6L229.8 515.0L233.8 515.4L237.8 515.9L241.8 516.5L245.8 517.2L249.8 517.9L253.8 518.7L257.7 519.6L261.7 520.7L265.7 522.0L269.7 523.5L273.7 525.2L277.7 527.0L281.7 528.9L285.7 530.9L289.6 533.0L293.6 535.0L297.6 537.1L301.6 539.2L305.6 541.2L309.6 543.3L313.6 545.3L317.6 547.4L321.6 549.5L325.5 551.7L329.5 553.9L333.5 556.2L337.5 558.5L341.5 560.8L345.5 563.1L349.5 565.4L353.5 567.8L357.5 570.1L361.4 572.5L365.4 574.8L369.4 577.1L373.4 579.4L377.4 581.8L381.4 584.2L385.4 586.6L389.4 589.1L393.3 591.6L397.3 594.3L401.3 597.0L405.3 599.8L409.3 602.6L413.3 605.3L417.3 608.0L421.3 610.7L425.3 613.3L429.2 615.8L433.2 618.2L437.2 620.4L441.2 622.5L445.2 624.3L449.2 625.8L453.2 626.9L457.2 627.4L461.1 627.6L465.1 627.3L469.1 626.6L473.1 625.4L477.1 623.7L481.1 621.5L485.1 618.6L489.1 615.0L493.1 610.9L497.0 606.2L501.0 600.8L505.0 594.7L509.0 587.9L513.0 580.5L517.0 572.8L521.0 565.4L525.0 558.4L529.0 552.0L532.9 546.1L536.9 540.5L540.9 535.0L544.9 529.9L548.9 524.9L552.9 520.3L556.9 516.0L560.9 512.0L564.8 508.4L568.8 504.9L572.8 501.7L576.8 498.6L580.8 495.8L584.8 493.2L588.8 491.0L592.8 489.1L596.8 487.5L600.7 486.2L604.7 485.3L608.7 484.7L612.7 484.2L616.7 484.0L620.7 484.0L624.7 484.2L628.7 484.7L632.7 485.6L636.6 486.6L640.6 487.9L644.6 489.3L648.6 490.7L652.6 492.3L656.6 493.9L660.6 495.4L664.6 497.0L668.5 498.5L672.5 500.0L676.5 501.4L680.5 502.7L684.5 503.9L688.5 505.0L692.5 506.0L696.5 506.9L700.5 507.8L704.4 508.5L708.4 509.2L712.4 509.9L716.4 510.4L720.4 510.9L724.4 511.3L728.4 511.7L732.4 512.0L736.3 512.2L740.3 512.5L744.3 512.7L748.3 512.9L752.3 513.0L756.3 513.2L760.3 513.4L764.3 513.5L768.3 513.6L772.2 513.7L776.2 513.8L780.2 513.8L784.2 513.9L788.2 513.9L792.2 514.0L796.2 514.0L800.2 514.1L804.2 514.1L808.1 514.1L812.1 514.2L816.1 514.2L820.1 514.2L824.1 514.2L828.1 514.2L832.1 514.2L836.1 514.2L840.0 514.2L844.0 514.2" fill="none" stroke="#1f1ff0" stroke-width="1.6" stroke-linejoin="round"/>
<path d="M217.9 514.2L221.8 514.3L225.8 514.4L229.8 514.5L233.8 514.7L237.8 514.8L241.8 515.0L245.8 515.2L249.8 515.4L253.8 515.6L257.7 515.8L261.7 516.0L265.7 516.3L269.7 516.5L273.7 516.8L277.7 517.2L281.7 517.5L285.7 517.9L289.6 518.3L293.6 518.7L297.6 519.1L301.6 519.5L305.6 519.9L309.6 520.3L313.6 520.7L317.6 521.1L321.6 521.5L325.5 522.0L329.5 522.4L333.5 522.9L337.5 523.3L341.5 523.8L345.5 524.2L349.5 524.7L353.5 525.1L357.5 525.6L361.4 526.0L365.4 526.5L369.4 526.9L373.4 527.3L377.4 527.8L381.4 528.2L385.4 528.6L389.4 529.1L393.3 529.5L397.3 530.0L401.3 530.4L405.3 530.8L409.3 531.3L413.3 531.7L417.3 532.2L421.3 532.7L425.3 533.1L429.2 533.6L433.2 534.1L437.2 534.6L441.2 535.1L445.2 535.5L449.2 536.0L453.2 536.5L457.2 536.9L461.1 537.4L465.1 537.8L469.1 538.2L473.1 538.6L477.1 539.0L481.1 539.3L485.1 539.7L489.1 540.0L493.1 540.3L497.0 540.7L501.0 541.0L505.0 541.3L509.0 541.6L513.0 541.9L517.0 542.2L521.0 542.6L525.0 542.9L529.0 543.3L532.9 543.6L536.9 544.0L540.9 544.3L544.9 544.6L548.9 544.7L552.9 544.8L556.9 544.7L560.9 544.6L564.8 544.5L568.8 544.3L572.8 544.1L576.8 543.8L580.8 543.3L584.8 542.8L588.8 542.1L592.8 541.4L596.8 540.6L600.7 539.7L604.7 538.7L608.7 537.5L612.7 536.2L616.7 534.8L620.7 533.4L624.7 531.9L628.7 530.4L632.7 528.9L636.6 527.3L640.6 525.7L644.6 524.2L648.6 522.7L652.6 521.4L656.6 520.2L660.6 519.0L664.6 518.0L668.5 517.1L672.5 516.3L676.5 515.8L680.5 515.4L684.5 515.1L688.5 514.8L692.5 514.6L696.5 514.4L700.5 514.3L704.4 514.3L708.4 514.2L712.4 514.2L716.4 514.2L720.4 514.2L724.4 514.2L728.4 514.2L732.4 514.2L736.3 514.2L740.3 514.2L744.3 514.2L748.3 514.2L752.3 514.2L756.3 514.2L760.3 514.2L764.3 514.2L768.3 514.2L772.2 514.2L776.2 514.2L780.2 514.2L784.2 514.2L788.2 514.2L792.2 514.2L796.2 514.2L800.2 514.2L804.2 514.2L808.1 514.2L812.1 514.2L816.1 514.2L820.1 514.2L824.1 514.2L828.1 514.2L832.1 514.2L836.1 514.2L840.0 514.2L844.0 514.2L848.0 514.2L852.0 514.2" fill="none" stroke="#b01e1e" stroke-width="1.6" stroke-linejoin="round"/>
<path d="M217.9 514.2L221.8 514.3L225.8 514.3L229.8 514.4L233.8 514.5L237.8 514.7L241.8 514.8L245.8 514.9L249.8 515.1L253.8 515.2L257.7 515.4L261.7 515.6L265.7 515.8L269.7 515.9L273.7 516.2L277.7 516.4L281.7 516.7L285.7 516.9L289.6 517.2L293.6 517.5L297.6 517.8L301.6 518.1L305.6 518.4L309.6 518.7L313.6 519.0L317.6 519.3L321.6 519.7L325.5 520.0L329.5 520.3L333.5 520.6L337.5 521.0L341.5 521.3L345.5 521.6L349.5 522.0L353.5 522.3L357.5 522.7L361.4 523.0L365.4 523.3L369.4 523.6L373.4 523.9L377.4 524.3L381.4 524.6L385.4 524.9L389.4 525.2L393.3 525.5L397.3 525.8L401.3 526.2L405.3 526.5L409.3 526.9L413.3 527.2L417.3 527.6L421.3 528.0L425.3 528.4L429.2 528.9L433.2 529.3L437.2 529.8L441.2 530.2L445.2 530.7L449.2 531.2L453.2 531.7L457.2 532.2L461.1 532.7L465.1 533.2L469.1 533.7L473.1 534.2L477.1 534.7L481.1 535.3L485.1 535.8L489.1 536.4L493.1 537.0L497.0 537.5L501.0 538.1L505.0 538.6L509.0 539.1L513.0 539.6L517.0 540.1L521.0 540.5L525.0 540.9L529.0 541.2L532.9 541.6L536.9 542.0L540.9 542.2L544.9 542.5L548.9 542.6L552.9 542.6L556.9 542.6L560.9 542.5L564.8 542.4L568.8 542.2L572.8 542.0L576.8 541.7L580.8 541.3L584.8 540.8L588.8 540.2L592.8 539.5L596.8 538.8L600.7 537.9L604.7 537.0L608.7 535.9L612.7 534.7L616.7 533.4L620.7 532.0L624.7 530.7L628.7 529.3L632.7 527.9L636.6 526.4L640.6 524.9L644.6 523.5L648.6 522.1L652.6 520.9L656.6 519.8L660.6 518.7L664.6 517.7L668.5 516.9L672.5 516.2L676.5 515.7L680.5 515.3L684.5 515.0L688.5 514.8L692.5 514.6L696.5 514.4L700.5 514.3L704.4 514.2L708.4 514.2L712.4 514.2L716.4 514.2L720.4 514.2L724.4 514.2L728.4 514.2L732.4 514.2L736.3 514.2L740.3 514.2L744.3 514.2L748.3 514.2L752.3 514.2L756.3 514.2L760.3 514.2L764.3 514.2L768.3 514.2L772.2 514.2L776.2 514.2L780.2 514.2L784.2 514.2L788.2 514.2L792.2 514.2L796.2 514.2L800.2 514.2L804.2 514.2L808.1 514.2L812.1 514.2L816.1 514.2L820.1 514.2L824.1 514.2L828.1 514.2L832.1 514.2L836.1 514.2L840.0 514.2L844.0 514.2L848.0 514.2L852.0 514.2" fill="none" stroke="#b01e1e" stroke-width="1.6" stroke-linejoin="round"/>
<path d="M217.9 514.2L221.8 514.2L225.8 514.3L229.8 514.4L233.8 514.4L237.8 514.5L241.8 514.6L245.8 514.7L249.8 514.8L253.8 514.9L257.7 515.0L261.7 515.1L265.7 515.2L269.7 515.3L273.7 515.5L277.7 515.7L281.7 515.8L285.7 516.0L289.6 516.2L293.6 516.4L297.6 516.6L301.6 516.8L305.6 517.0L309.6 517.2L313.6 517.4L317.6 517.6L321.6 517.8L325.5 518.0L329.5 518.2L333.5 518.4L337.5 518.7L341.5 518.9L345.5 519.1L349.5 519.3L353.5 519.5L357.5 519.8L361.4 520.0L365.4 520.2L369.4 520.4L373.4 520.6L377.4 520.8L381.4 521.0L385.4 521.2L389.4 521.4L393.3 521.6L397.3 521.8L401.3 522.0L405.3 522.2L409.3 522.5L413.3 522.8L417.3 523.0L421.3 523.4L425.3 523.7L429.2 524.1L433.2 524.5L437.2 525.0L441.2 525.4L445.2 525.9L449.2 526.4L453.2 526.9L457.2 527.5L461.1 528.0L465.1 528.6L469.1 529.1L473.1 529.7L477.1 530.4L481.1 531.1L485.1 531.8L489.1 532.6L493.1 533.4L497.0 534.2L501.0 535.0L505.0 535.7L509.0 536.4L513.0 537.1L517.0 537.6L521.0 538.1L525.0 538.6L529.0 538.9L532.9 539.3L536.9 539.6L540.9 539.9L544.9 540.0L548.9 540.2L552.9 540.2L556.9 540.2L560.9 540.1L564.8 540.0L568.8 539.8L572.8 539.6L576.8 539.3L580.8 539.0L584.8 538.5L588.8 538.0L592.8 537.3L596.8 536.7L600.7 535.9L604.7 535.0L608.7 534.0L612.7 532.9L616.7 531.7L620.7 530.5L624.7 529.3L628.7 528.0L632.7 526.7L636.6 525.3L640.6 524.0L644.6 522.7L648.6 521.4L652.6 520.3L656.6 519.3L660.6 518.3L664.6 517.4L668.5 516.6L672.5 516.0L676.5 515.5L680.5 515.2L684.5 514.9L688.5 514.7L692.5 514.6L696.5 514.4L700.5 514.3L704.4 514.2L708.4 514.2L712.4 514.2L716.4 514.2L720.4 514.2L724.4 514.2L728.4 514.2L732.4 514.2L736.3 514.2L740.3 514.2L744.3 514.2L748.3 514.2L752.3 514.2L756.3 514.2L760.3 514.2L764.3 514.2L768.3 514.2L772.2 514.2L776.2 514.2L780.2 514.2L784.2 514.2L788.2 514.2L792.2 514.2L796.2 514.2L800.2 514.2L804.2 514.2L808.1 514.2L812.1 514.2L816.1 514.2L820.1 514.2L824.1 514.2L828.1 514.2L832.1 514.2L836.1 514.2L840.0 514.2L844.0 514.2L848.0 514.2L852.0 514.2" fill="none" stroke="#b01e1e" stroke-width="1.6" stroke-linejoin="round"/>
<path d="M217.9 514.2L221.8 514.2L225.8 514.2L229.8 514.2L233.8 514.2L237.8 514.2L241.8 514.2L245.8 514.2L249.8 514.2L253.8 514.2L257.7 514.2L261.7 514.2L265.7 514.2L269.7 514.2L273.7 514.2L277.7 514.2L281.7 514.2L285.7 514.2L289.6 514.2L293.6 514.2L297.6 514.2L301.6 514.2L305.6 514.2L309.6 514.2L313.6 514.2L317.6 514.2L321.6 514.2L325.5 514.2L329.5 514.2L333.5 514.2L337.5 514.2L341.5 514.2L345.5 514.2L349.5 514.2L353.5 514.2L357.5 514.2L361.4 514.2L365.4 514.2L369.4 514.2L373.4 514.2L377.4 514.2L381.4 514.2L385.4 514.2L389.4 514.2L393.3 514.2L397.3 514.2L401.3 514.2L405.3 514.2L409.3 514.1L413.3 514.1L417.3 514.1L421.3 514.0L425.3 514.0L429.2 513.9L433.2 513.8L437.2 513.7L441.2 513.6L445.2 513.5L449.2 513.4L453.2 513.3L457.2 513.1L461.1 512.9L465.1 512.5L469.1 512.0L473.1 511.4L477.1 510.6L481.1 509.7L485.1 508.9L489.1 508.0L493.1 507.1L497.0 506.2L501.0 505.3L505.0 504.3L509.0 503.3L513.0 502.3L517.0 501.2L521.0 500.1L525.0 498.9L529.0 497.6L532.9 496.2L536.9 494.7L540.9 493.3L544.9 491.9L548.9 490.6L552.9 489.5L556.9 488.5L560.9 487.6L564.8 486.7L568.8 486.0L572.8 485.5L576.8 485.1L580.8 485.0L584.8 485.1L588.8 485.5L592.8 486.0L596.8 486.5L600.7 487.2L604.7 488.0L608.7 488.9L612.7 489.9L616.7 490.9L620.7 492.1L624.7 493.2L628.7 494.4L632.7 495.7L636.6 497.1L640.6 498.4L644.6 499.8L648.6 501.1L652.6 502.3L656.6 503.4L660.6 504.5L664.6 505.6L668.5 506.6L672.5 507.5L676.5 508.4L680.5 509.2L684.5 509.8L688.5 510.4L692.5 510.9L696.5 511.4L700.5 511.8L704.4 512.2L708.4 512.5L712.4 512.8L716.4 513.0L720.4 513.2L724.4 513.3L728.4 513.5L732.4 513.6L736.3 513.8L740.3 513.9L744.3 514.0L748.3 514.1L752.3 514.1L756.3 514.2L760.3 514.2L764.3 514.2L768.3 514.2L772.2 514.2L776.2 514.2L780.2 514.2L784.2 514.2L788.2 514.2L792.2 514.2L796.2 514.2L800.2 514.2L804.2 514.2L808.1 514.2L812.1 514.2L816.1 514.2L820.1 514.2L824.1 514.2L828.1 514.2L832.1 514.2L836.1 514.2L840.0 514.2L844.0 514.2L848.0 514.2L852.0 514.2" fill="none" stroke="#b01e1e" stroke-width="1.6" stroke-linejoin="round"/>
<path d="M217.9 514.2L221.8 514.3L225.8 514.3L229.8 514.4L233.8 514.4L237.8 514.5L241.8 514.6L245.8 514.7L249.8 514.7L253.8 514.8L257.7 514.9L261.7 515.0L265.7 515.1L269.7 515.2L273.7 515.3L277.7 515.4L281.7 515.5L285.7 515.6L289.6 515.7L293.6 515.8L297.6 515.9L301.6 516.0L305.6 516.2L309.6 516.3L313.6 516.4L317.6 516.5L321.6 516.7L325.5 516.8L329.5 517.0L333.5 517.1L337.5 517.3L341.5 517.5L345.5 517.6L349.5 517.8L353.5 517.9L357.5 518.1L361.4 518.3L365.4 518.4L369.4 518.6L373.4 518.8L377.4 519.0L381.4 519.2L385.4 519.4L389.4 519.6L393.3 519.7L397.3 519.9L401.3 520.0L405.3 520.2L409.3 520.2L413.3 520.3L417.3 520.3L421.3 520.3L425.3 520.3L429.2 520.2L433.2 520.1L437.2 520.1L441.2 520.0L445.2 519.8L449.2 519.7L453.2 519.6L457.2 519.4L461.1 519.3L465.1 519.2L469.1 519.0L473.1 518.8L477.1 518.6L481.1 518.3L485.1 518.0L489.1 517.6L493.1 517.3L497.0 516.9L501.0 516.5L505.0 516.2L509.0 515.8L513.0 515.5L517.0 515.3L521.0 515.0L525.0 514.9L529.0 514.7L532.9 514.6L536.9 514.5L540.9 514.4L544.9 514.3L548.9 514.3L552.9 514.2L556.9 514.2L560.9 514.2L564.8 514.2L568.8 514.2L572.8 514.2L576.8 514.2L580.8 514.2L584.8 514.2L588.8 514.2L592.8 514.2L596.8 514.2L600.7 514.2L604.7 514.2L608.7 514.2L612.7 514.2L616.7 514.2L620.7 514.2L624.7 514.2L628.7 514.2L632.7 514.2L636.6 514.2L640.6 514.2L644.6 514.2L648.6 514.2L652.6 514.2L656.6 514.2L660.6 514.2L664.6 514.2L668.5 514.2L672.5 514.2L676.5 514.2L680.5 514.2L684.5 514.2L688.5 514.2L692.5 514.2L696.5 514.2L700.5 514.2L704.4 514.2L708.4 514.2L712.4 514.2L716.4 514.2L720.4 514.2L724.4 514.2L728.4 514.2L732.4 514.2L736.3 514.2L740.3 514.2L744.3 514.2L748.3 514.2L752.3 514.2L756.3 514.2L760.3 514.2L764.3 514.2L768.3 514.2L772.2 514.2L776.2 514.2L780.2 514.2L784.2 514.2L788.2 514.2L792.2 514.2L796.2 514.2L800.2 514.2L804.2 514.2L808.1 514.2L812.1 514.2L816.1 514.2L820.1 514.2L824.1 514.2L828.1 514.2L832.1 514.2L836.1 514.2L840.0 514.2L844.0 514.2L848.0 514.2L852.0 514.2" fill="none" stroke="#b01e1e" stroke-width="1.6" stroke-linejoin="round"/>
<path d="M217.9 514.2L221.9 514.2L225.9 514.3L229.9 514.3L233.9 514.3L237.9 514.4L241.9 514.4L245.9 514.4L249.9 514.5L253.9 514.5L257.9 514.5L261.9 514.6L265.9 514.6L269.9 514.6L273.9 514.6L277.9 514.7L281.9 514.7L285.9 514.7L289.9 514.8L293.9 514.8L297.9 514.8L301.9 514.8L305.9 514.9L309.9 514.9L313.9 514.9L317.9 514.9L321.9 515.0L325.9 515.0L329.9 515.0L333.9 515.0L337.9 515.0L341.9 515.1L345.9 515.1L349.9 515.1L353.9 515.1L357.9 515.1L361.9 515.2L365.9 515.2L369.9 515.2L373.9 515.2L377.9 515.2L381.9 515.3L385.9 515.3L389.9 515.3L393.9 515.3L397.9 515.3L401.9 515.3L405.9 515.3L410.0 515.4L414.0 515.4L418.0 515.4L422.0 515.4L426.0 515.4L430.0 515.4L434.0 515.4L438.0 515.4L442.0 515.5L446.0 515.5L450.0 515.5L454.0 515.5L458.0 515.5L462.0 515.5L466.0 515.5L470.0 515.5L474.0 515.5L478.0 515.5L482.0 515.5L486.0 515.5L490.0 515.5L494.0 515.5L498.0 515.6L502.0 515.6L506.0 515.6L510.0 515.6L514.0 515.6L518.0 515.6L522.0 515.6L526.0 515.6L530.0 515.6L534.0 515.6L538.0 515.6L542.0 515.6L546.0 515.6L550.0 515.6L554.0 515.6L558.0 515.5L562.0 515.5L566.0 515.5L570.0 515.5L574.0 515.5L578.0 515.5L582.0 515.5L586.0 515.5L590.0 515.5L594.0 515.5L598.0 515.5L602.0 515.5L606.0 515.5L610.1 515.5L614.1 515.5L618.1 515.5L622.1 515.4L626.1 515.4L630.1 515.4L634.1 515.4L638.1 515.4L642.1 515.4L646.1 515.4L650.1 515.4L654.1 515.4L658.1 515.3L662.1 515.3L666.1 515.3L670.1 515.3L674.1 515.3L678.1 515.3L682.1 515.3L686.1 515.2L690.1 515.2L694.1 515.2L698.1 515.2L702.1 515.2L706.1 515.2L710.1 515.1L714.1 515.1L718.1 515.1L722.1 515.1L726.1 515.1L730.1 515.0L734.1 515.0L738.1 515.0L742.1 515.0L746.1 515.0L750.1 514.9L754.1 514.9L758.1 514.9L762.1 514.9L766.1 514.8L770.1 514.8L774.1 514.8L778.1 514.8L782.1 514.7L786.1 514.7L790.1 514.7L794.1 514.7L798.1 514.6L802.1 514.6L806.1 514.6L810.1 514.5L814.2 514.5L818.2 514.5L822.2 514.5L826.2 514.4L830.2 514.4L834.2 514.4L838.2 514.3L842.2 514.3L846.2 514.3L850.2 514.2L854.2 514.2" fill="none" stroke="#b01e1e" stroke-width="1.6" stroke-linejoin="round"/>
<path d="M217.9 514.2L221.9 514.2L225.9 514.2L229.9 514.2L233.9 514.2L237.9 514.2L241.9 514.2L245.9 514.2L249.9 514.2L253.9 514.2L257.9 514.2L261.9 514.2L265.9 514.2L269.9 514.2L273.9 514.2L277.9 514.2L281.9 514.2L285.9 514.2L289.9 514.2L293.9 514.2L297.9 514.2L301.9 514.2L305.9 514.2L309.9 514.2L313.9 514.2L317.9 514.2L321.9 514.2L325.9 514.2L329.9 514.2L333.9 514.2L337.9 514.2L341.9 514.2L345.9 514.2L349.9 514.2L353.9 514.2L357.9 514.2L361.9 514.2L365.9 514.2L369.9 514.2L373.9 514.2L377.9 514.2L381.9 514.2L385.9 514.2L389.9 514.2L393.9 514.2L397.9 514.2L401.9 514.2L405.9 514.2L410.0 514.2L414.0 514.2L418.0 514.2L422.0 514.2L426.0 514.2L430.0 514.2L434.0 514.2L438.0 514.2L442.0 514.2L446.0 514.2L450.0 514.2L454.0 514.2L458.0 514.2L462.0 514.2L466.0 514.2L470.0 514.2L474.0 514.2L478.0 514.2L482.0 514.2L486.0 514.2L490.0 514.2L494.0 514.2L498.0 514.2L502.0 514.2L506.0 514.2L510.0 514.2L514.0 514.2L518.0 514.2L522.0 514.2L526.0 514.2L530.0 514.2L534.0 514.2L538.0 514.2L542.0 514.2L546.0 514.2L550.0 514.2L554.0 514.2L558.0 514.2L562.0 514.2L566.0 514.2L570.0 514.2L574.0 514.2L578.0 514.2L582.0 514.2L586.0 514.2L590.0 514.2L594.0 514.2L598.0 514.2L602.0 514.2L606.0 514.2L610.1 514.2L614.1 514.2L618.1 514.2L622.1 514.2L626.1 514.2L630.1 514.2L634.1 514.2L638.1 514.2L642.1 514.2L646.1 514.2L650.1 514.2L654.1 514.2L658.1 514.2L662.1 514.2L666.1 514.2L670.1 514.2L674.1 514.2L678.1 514.2L682.1 514.2L686.1 514.2L690.1 514.2L694.1 514.2L698.1 514.2L702.1 514.2L706.1 514.2L710.1 514.2L714.1 514.2L718.1 514.2L722.1 514.2L726.1 514.2L730.1 514.2L734.1 514.2L738.1 514.2L742.1 514.2L746.1 514.2L750.1 514.2L754.1 514.2L758.1 514.2L762.1 514.2L766.1 514.2L770.1 514.2L774.1 514.2L778.1 514.2L782.1 514.2L786.1 514.2L790.1 514.2L794.1 514.2L798.1 514.2L802.1 514.2L806.1 514.2L810.1 514.2L814.2 514.2L818.2 514.2L822.2 514.2L826.2 514.2L830.2 514.2L834.2 514.2L838.2 514.2L842.2 514.2L846.2 514.2L850.2 514.2L854.2 514.2" fill="none" stroke="#b01e1e" stroke-width="1.6" stroke-linejoin="round"/>
<path d="M217.9 514.2L221.8 514.4L225.8 514.6L229.8 515.0L233.8 515.5L237.8 516.1L241.8 516.7L245.8 517.4L249.8 518.2L253.8 519.0L257.7 520.0L261.7 521.2L265.7 522.6L269.7 524.2L273.7 525.9L277.7 527.8L281.7 529.8L285.7 531.8L289.6 534.0L293.6 536.1L297.6 538.2L301.6 540.3L305.6 542.4L309.6 544.5L313.6 546.6L317.6 548.8L321.6 551.0L325.5 553.2L329.5 555.5L333.5 557.9L337.5 560.2L341.5 562.6L345.5 564.9L349.5 567.3L353.5 569.7L357.5 572.1L361.4 574.5L365.4 576.8L369.4 579.2L373.4 581.5L377.4 583.9L381.4 586.3L385.4 588.8L389.4 591.3L393.3 593.9L397.3 596.7L401.3 599.5L405.3 602.4L409.3 605.2L413.3 608.1L417.3 610.8L421.3 613.6L425.3 616.2L429.2 618.7L433.2 621.1L437.2 623.3L441.2 625.4L445.2 627.2L449.2 628.5L453.2 629.3L457.2 629.7L461.1 629.6L465.1 629.2L469.1 628.3L473.1 626.9L477.1 625.0L481.1 622.6L485.1 619.6L489.1 616.0L493.1 611.9L497.0 607.2L501.0 601.8L505.0 595.7L509.0 588.9L513.0 581.7L517.0 574.4L521.0 567.6L525.0 561.3L529.0 555.6L532.9 550.3L536.9 545.3L540.9 540.6L544.9 536.1L548.9 531.8L552.9 527.8L556.9 524.1L560.9 520.7L564.8 517.6L568.8 514.6L572.8 511.7L576.8 509.0L580.8 506.4L584.8 504.1L588.8 502.0L592.8 500.2L596.8 498.7L600.7 497.5L604.7 496.6L608.7 495.8L612.7 495.2L616.7 494.7L620.7 494.4L624.7 494.4L628.7 494.6L632.7 495.1L636.6 495.8L640.6 496.7L644.6 497.6L648.6 498.6L652.6 499.6L656.6 500.7L660.6 501.7L664.6 502.8L668.5 503.8L672.5 504.7L676.5 505.7L680.5 506.5L684.5 507.3L688.5 508.0L692.5 508.7L696.5 509.3L700.5 509.9L704.4 510.4L708.4 510.9L712.4 511.3L716.4 511.6L720.4 512.0L724.4 512.2L728.4 512.5L732.4 512.7L736.3 512.8L740.3 513.0L744.3 513.1L748.3 513.3L752.3 513.4L756.3 513.5L760.3 513.6L764.3 513.7L768.3 513.8L772.2 513.8L776.2 513.9L780.2 513.9L784.2 514.0L788.2 514.0L792.2 514.0L796.2 514.1L800.2 514.1L804.2 514.1L808.1 514.1L812.1 514.2L816.1 514.2L820.1 514.2L824.1 514.2L828.1 514.2L832.1 514.2L836.1 514.2L840.0 514.2L844.0 514.2" fill="none" stroke="#1f1ff0" stroke-width="1.6" stroke-linejoin="round"/>
<path d="M217.9 514.2L221.8 514.4L225.8 514.7L229.8 515.1L233.8 515.6L237.8 516.2L241.8 516.9L245.8 517.7L249.8 518.5L253.8 519.4L257.7 520.5L261.7 521.7L265.7 523.2L269.7 524.9L273.7 526.7L277.7 528.6L281.7 530.7L285.7 532.9L289.6 535.1L293.6 537.3L297.6 539.5L301.6 541.7L305.6 543.8L309.6 546.0L313.6 548.2L317.6 550.4L321.6 552.7L325.5 555.1L329.5 557.4L333.5 559.8L337.5 562.3L341.5 564.7L345.5 567.2L349.5 569.6L353.5 572.1L357.5 574.6L361.4 577.0L365.4 579.4L369.4 581.8L373.4 584.2L377.4 586.6L381.4 589.1L385.4 591.7L389.4 594.3L393.3 597.1L397.3 599.9L401.3 602.9L405.3 605.9L409.3 608.9L413.3 611.8L417.3 614.7L421.3 617.6L425.3 620.3L429.2 622.9L433.2 625.4L437.2 627.7L441.2 629.8L445.2 631.5L449.2 632.8L453.2 633.5L457.2 633.8L461.1 633.7L465.1 633.2L469.1 632.2L473.1 630.7L477.1 628.8L481.1 626.3L485.1 623.4L489.1 619.9L493.1 615.8L497.0 611.1L501.0 605.8L505.0 599.6L509.0 592.9L513.0 585.8L517.0 578.9L521.0 572.4L525.0 566.6L529.0 561.3L532.9 556.4L536.9 551.8L540.9 547.6L544.9 543.5L548.9 539.7L552.9 536.1L556.9 532.8L560.9 529.8L564.8 527.0L568.8 524.2L572.8 521.6L576.8 519.0L580.8 516.6L584.8 514.3L588.8 512.3L592.8 510.5L596.8 508.9L600.7 507.6L604.7 506.5L608.7 505.5L612.7 504.7L616.7 503.9L620.7 503.3L624.7 503.0L628.7 502.9L632.7 503.0L636.6 503.3L640.6 503.7L644.6 504.2L648.6 504.8L652.6 505.4L656.6 506.0L660.6 506.6L664.6 507.2L668.5 507.8L672.5 508.3L676.5 508.9L680.5 509.4L684.5 509.9L688.5 510.3L692.5 510.7L696.5 511.1L700.5 511.4L704.4 511.8L708.4 512.0L712.4 512.3L716.4 512.5L720.4 512.7L724.4 512.9L728.4 513.1L732.4 513.2L736.3 513.3L740.3 513.4L744.3 513.5L748.3 513.6L752.3 513.6L756.3 513.7L760.3 513.8L764.3 513.8L768.3 513.9L772.2 513.9L776.2 514.0L780.2 514.0L784.2 514.0L788.2 514.1L792.2 514.1L796.2 514.1L800.2 514.1L804.2 514.1L808.1 514.2L812.1 514.2L816.1 514.2L820.1 514.2L824.1 514.2L828.1 514.2L832.1 514.2L836.1 514.2L840.0 514.2L844.0 514.2" fill="none" stroke="#1f1ff0" stroke-width="1.6" stroke-linejoin="round"/>
<path d="M217.9 514.2L221.8 514.4L225.8 514.7L229.8 515.1L233.8 515.6L237.8 516.3L241.8 517.0L245.8 517.8L249.8 518.7L253.8 519.7L257.7 520.8L261.7 522.1L265.7 523.6L269.7 525.4L273.7 527.3L277.7 529.4L281.7 531.5L285.7 533.8L289.6 536.1L293.6 538.4L297.6 540.7L301.6 542.9L305.6 545.2L309.6 547.4L313.6 549.7L317.6 552.1L321.6 554.5L325.5 556.9L329.5 559.4L333.5 561.9L337.5 564.4L341.5 567.0L345.5 569.5L349.5 572.1L353.5 574.7L357.5 577.2L361.4 579.8L365.4 582.3L369.4 584.7L373.4 587.2L377.4 589.7L381.4 592.3L385.4 595.0L389.4 597.7L393.3 600.6L397.3 603.6L401.3 606.7L405.3 609.8L409.3 612.9L413.3 615.9L417.3 618.9L421.3 621.8L425.3 624.7L429.2 627.3L433.2 629.8L437.2 632.2L441.2 634.3L445.2 636.0L449.2 637.1L453.2 637.8L457.2 638.0L461.1 637.7L465.1 637.1L469.1 635.9L473.1 634.3L477.1 632.2L481.1 629.6L485.1 626.4L489.1 622.7L493.1 618.4L497.0 613.5L501.0 607.8L505.0 601.3L509.0 594.3L513.0 587.0L517.0 580.0L521.0 573.6L525.0 567.8L529.0 562.5L532.9 557.7L536.9 553.2L540.9 548.9L544.9 544.9L548.9 541.1L552.9 537.6L556.9 534.3L560.9 531.3L564.8 528.5L568.8 525.8L572.8 523.1L576.8 520.5L580.8 518.0L584.8 515.8L588.8 513.7L592.8 511.9L596.8 510.4L600.7 509.1L604.7 507.9L608.7 506.9L612.7 506.0L616.7 505.2L620.7 504.5L624.7 504.2L628.7 504.1L632.7 504.2L636.6 504.5L640.6 504.9L644.6 505.3L648.6 505.8L652.6 506.3L656.6 506.8L660.6 507.4L664.6 507.9L668.5 508.4L672.5 509.0L676.5 509.4L680.5 509.9L684.5 510.3L688.5 510.7L692.5 511.1L696.5 511.4L700.5 511.7L704.4 512.0L708.4 512.3L712.4 512.5L716.4 512.7L720.4 512.9L724.4 513.0L728.4 513.1L732.4 513.3L736.3 513.4L740.3 513.4L744.3 513.5L748.3 513.6L752.3 513.7L756.3 513.7L760.3 513.8L764.3 513.9L768.3 513.9L772.2 513.9L776.2 514.0L780.2 514.0L784.2 514.0L788.2 514.1L792.2 514.1L796.2 514.1L800.2 514.1L804.2 514.1L808.1 514.2L812.1 514.2L816.1 514.2L820.1 514.2L824.1 514.2L828.1 514.2L832.1 514.2L836.1 514.2L840.0 514.2L844.0 514.2" fill="none" stroke="#1f1ff0" stroke-width="1.6" stroke-linejoin="round"/>
<path d="M217.9 514.2L221.8 514.3L225.8 514.6L229.8 514.9L233.8 515.3L237.8 515.7L241.8 516.2L245.8 516.8L249.8 517.4L253.8 518.1L257.7 518.8L261.7 519.7L265.7 520.8L269.7 522.0L273.7 523.4L277.7 524.8L281.7 526.4L285.7 528.1L289.6 529.8L293.6 531.6L297.6 533.3L301.6 535.1L305.6 536.8L309.6 538.6L313.6 540.3L317.6 542.0L321.6 543.8L325.5 545.6L329.5 547.5L333.5 549.4L337.5 551.3L341.5 553.2L345.5 555.2L349.5 557.1L353.5 559.1L357.5 561.1L361.4 563.1L365.4 565.1L369.4 567.1L373.4 569.1L377.4 571.2L381.4 573.2L385.4 575.3L389.4 577.5L393.3 579.7L397.3 581.9L401.3 584.2L405.3 586.6L409.3 589.0L413.3 591.5L417.3 594.0L421.3 596.4L425.3 598.8L429.2 601.2L433.2 603.4L437.2 605.6L441.2 607.6L445.2 609.5L449.2 611.2L453.2 612.7L457.2 613.8L461.1 614.4L465.1 614.7L469.1 614.6L473.1 614.1L477.1 613.2L481.1 611.9L485.1 610.1L489.1 607.8L493.1 605.0L497.0 601.6L501.0 597.7L505.0 593.2L509.0 588.2L513.0 582.5L517.0 576.2L521.0 569.6L525.0 563.0L529.0 556.7L532.9 551.0L536.9 545.8L540.9 540.8L544.9 536.1L548.9 531.6L552.9 527.3L556.9 523.2L560.9 519.5L564.8 515.9L568.8 512.7L572.8 509.7L576.8 506.8L580.8 504.1L584.8 501.6L588.8 499.3L592.8 497.3L596.8 495.5L600.7 494.0L604.7 492.7L608.7 491.8L612.7 491.1L616.7 490.6L620.7 490.2L624.7 490.0L628.7 490.1L632.7 490.3L636.6 490.9L640.6 491.7L644.6 492.6L648.6 493.7L652.6 494.8L656.6 496.0L660.6 497.3L664.6 498.5L668.5 499.8L672.5 501.0L676.5 502.2L680.5 503.4L684.5 504.5L688.5 505.5L692.5 506.4L696.5 507.2L700.5 508.0L704.4 508.8L708.4 509.4L712.4 510.0L716.4 510.6L720.4 511.1L724.4 511.5L728.4 511.9L732.4 512.2L736.3 512.4L740.3 512.6L744.3 512.8L748.3 513.0L752.3 513.2L756.3 513.3L760.3 513.4L764.3 513.6L768.3 513.7L772.2 513.7L776.2 513.8L780.2 513.9L784.2 513.9L788.2 514.0L792.2 514.0L796.2 514.0L800.2 514.1L804.2 514.1L808.1 514.1L812.1 514.2L816.1 514.2L820.1 514.2L824.1 514.2L828.1 514.2L832.1 514.2L836.1 514.2L840.0 514.2L844.0 514.2" fill="none" stroke="#1f1ff0" stroke-width="1.6" stroke-linejoin="round"/>
<path d="M217.9 514.2L221.8 514.4L225.8 514.8L229.8 515.3L233.8 515.9L237.8 516.6L241.8 517.4L245.8 518.3L249.8 519.2L253.8 520.2L257.7 521.4L261.7 522.7L265.7 524.3L269.7 526.0L273.7 527.9L277.7 530.0L281.7 532.2L285.7 534.6L289.6 536.9L293.6 539.3L297.6 541.8L301.6 544.2L305.6 546.6L309.6 548.9L313.6 551.3L317.6 553.7L321.6 556.1L325.5 558.6L329.5 561.2L333.5 563.7L337.5 566.3L341.5 569.0L345.5 571.6L349.5 574.3L353.5 577.0L357.5 579.7L361.4 582.3L365.4 585.0L369.4 587.7L373.4 590.4L377.4 593.1L381.4 595.8L385.4 598.6L389.4 601.5L393.3 604.4L397.3 607.5L401.3 610.7L405.3 614.1L409.3 617.6L413.3 621.1L417.3 624.6L421.3 628.1L425.3 631.5L429.2 634.8L433.2 638.0L437.2 641.1L441.2 643.9L445.2 646.6L449.2 649.0L453.2 650.9L457.2 652.2L461.1 652.8L465.1 653.1L469.1 652.8L473.1 652.1L477.1 650.9L481.1 649.2L485.1 647.0L489.1 644.4L493.1 641.3L497.0 637.6L501.0 633.3L505.0 628.2L509.0 622.4L513.0 615.7L517.0 608.4L521.0 600.9L525.0 593.8L529.0 587.3L532.9 581.5L536.9 576.4L540.9 571.8L544.9 567.7L548.9 563.7L552.9 560.0L556.9 556.5L560.9 553.3L564.8 550.4L568.8 547.7L572.8 545.1L576.8 542.5L580.8 539.9L584.8 537.3L588.8 534.7L592.8 532.2L596.8 529.9L600.7 527.9L604.7 526.1L608.7 524.4L612.7 522.9L616.7 521.4L620.7 520.0L624.7 518.6L628.7 517.3L632.7 516.4L636.6 515.7L640.6 515.2L644.6 514.8L648.6 514.5L652.6 514.3L656.6 514.1L660.6 514.0L664.6 513.9L668.5 513.8L672.5 513.7L676.5 513.6L680.5 513.6L684.5 513.5L688.5 513.5L692.5 513.5L696.5 513.6L700.5 513.6L704.4 513.6L708.4 513.7L712.4 513.7L716.4 513.7L720.4 513.8L724.4 513.8L728.4 513.8L732.4 513.9L736.3 513.9L740.3 513.9L744.3 513.9L748.3 514.0L752.3 514.0L756.3 514.0L760.3 514.0L764.3 514.0L768.3 514.1L772.2 514.1L776.2 514.1L780.2 514.1L784.2 514.1L788.2 514.1L792.2 514.1L796.2 514.2L800.2 514.2L804.2 514.2L808.1 514.2L812.1 514.2L816.1 514.2L820.1 514.2L824.1 514.2L828.1 514.2L832.1 514.2L836.1 514.2L840.0 514.2L844.0 514.2" fill="none" stroke="#1f1ff0" stroke-width="1.6" stroke-linejoin="round"/>
<path d="M217.9 514.2L221.7 514.2L225.6 514.2L229.5 514.2L233.3 514.1L237.2 514.1L241.1 514.1L244.9 514.0L248.8 514.0L252.7 513.9L256.5 513.8L260.4 513.8L264.3 513.7L268.1 513.5L272.0 513.4L275.9 513.2L279.7 512.9L283.6 512.6L287.4 512.3L291.3 511.9L295.2 511.5L299.0 511.0L302.9 510.5L306.8 509.9L310.6 509.4L314.5 508.7L318.4 508.1L322.2 507.4L326.1 506.7L330.0 505.9L333.8 505.1L337.7 504.3L341.6 503.5L345.4 502.6L349.3 501.7L353.2 500.8L357.0 499.8L360.9 498.6L364.8 497.4L368.6 496.1L372.5 494.7L376.4 493.2L380.2 491.5L384.1 489.8L388.0 488.0L391.8 486.2L395.7 484.3L399.6 482.3L403.4 480.3L407.3 478.2L411.2 476.1L415.0 474.0L418.9 471.9L422.8 469.8L426.6 467.6L430.5 465.4L434.4 463.1L438.2 460.8L442.1 458.4L446.0 455.8L449.8 453.2L453.7 450.5L457.6 447.6L461.4 444.6L465.3 441.3L469.2 437.9L473.0 434.3L476.9 430.6L480.8 426.6L484.6 422.5L488.5 418.3L492.4 413.9L496.2 409.4L500.1 404.7L504.0 399.7L507.8 394.5L511.7 388.9L515.6 383.0L519.4 376.6L523.3 369.7L527.2 362.2L531.0 354.2L534.9 345.8L538.8 337.0L542.6 327.7L546.5 318.3L550.4 309.0L554.2 300.3L558.1 292.2L562.0 284.4L565.8 276.9L569.7 269.9L573.6 263.9L577.4 259.2L581.3 255.6L585.2 253.2L589.0 251.6L592.9 250.9L596.8 251.1L600.6 252.0L604.5 253.8L608.4 256.6L612.2 260.3L616.1 264.9L620.0 270.0L623.8 276.6L627.7 285.7L631.6 297.1L635.4 308.3L639.3 317.8L643.2 326.4L647.0 334.9L650.9 344.6L654.8 355.5L658.6 367.1L662.5 378.2L666.3 388.1L670.2 397.2L674.1 405.9L677.9 414.6L681.8 423.5L685.7 432.3L689.5 440.5L693.4 448.0L697.3 454.7L701.1 460.8L705.0 466.1L708.9 470.6L712.7 474.3L716.6 477.6L720.5 480.6L724.3 483.7L728.2 486.7L732.1 489.6L735.9 492.4L739.8 495.0L743.7 497.2L747.5 499.0L751.4 500.6L755.3 502.0L759.1 503.2L763.0 504.4L766.9 505.5L770.7 506.5L774.6 507.4L778.5 508.2L782.3 509.0L786.2 509.6L790.1 510.2L793.9 510.8L797.8 511.3L801.7 511.8L805.5 512.2L809.4 512.6L813.3 513.0L817.1 513.4L821.0 513.7L824.9 513.9L828.7 514.1L832.6 514.2" fill="none" stroke="#3f8a3a" stroke-width="1.6" stroke-linejoin="round"/>
<path d="M217.9 514.2L221.7 514.2L225.6 514.2L229.5 514.2L233.3 514.2L237.2 514.1L241.1 514.1L244.9 514.1L248.8 514.1L252.7 514.0L256.5 514.0L260.4 514.0L264.3 513.9L268.1 513.8L272.0 513.8L275.9 513.6L279.7 513.5L283.6 513.4L287.4 513.2L291.3 513.0L295.2 512.7L299.0 512.5L302.9 512.2L306.8 511.9L310.6 511.5L314.5 511.2L318.4 510.8L322.2 510.4L326.1 509.9L330.0 509.5L333.8 509.0L337.7 508.5L341.6 508.1L345.4 507.6L349.3 507.1L353.2 506.5L357.0 505.9L360.9 505.2L364.8 504.3L368.6 503.3L372.5 502.1L376.4 500.8L380.2 499.3L384.1 497.7L388.0 495.9L391.8 494.0L395.7 492.1L399.6 490.0L403.4 487.9L407.3 485.7L411.2 483.5L415.0 481.3L418.9 479.0L422.8 476.7L426.6 474.5L430.5 472.2L434.4 470.0L438.2 467.8L442.1 465.5L446.0 463.2L449.8 460.9L453.7 458.4L457.6 455.8L461.4 453.1L465.3 450.2L469.2 447.2L473.0 443.9L476.9 440.3L480.8 436.3L484.6 432.2L488.5 427.7L492.4 423.1L496.2 418.2L500.1 413.2L504.0 408.0L507.8 402.5L511.7 396.7L515.6 390.5L519.4 384.0L523.3 377.0L527.2 369.5L531.0 361.5L534.9 352.9L538.8 343.9L542.6 334.5L546.5 324.6L550.4 314.7L554.2 304.9L558.1 295.8L562.0 287.5L565.8 280.4L569.7 274.4L573.6 269.7L577.4 266.1L581.3 263.6L585.2 262.0L589.0 261.2L592.9 261.2L596.8 262.0L600.6 263.5L604.5 266.0L608.4 269.6L612.2 275.0L616.1 282.5L620.0 291.7L623.8 301.3L627.7 310.3L631.6 318.7L635.4 327.0L639.3 335.5L643.2 344.5L647.0 354.1L650.9 364.2L654.8 374.6L658.6 384.9L662.5 395.2L666.3 405.3L670.2 415.0L674.1 424.2L677.9 433.0L681.8 441.1L685.7 448.5L689.5 455.2L693.4 461.2L697.3 466.5L701.1 471.0L705.0 474.8L708.9 478.2L712.7 481.2L716.6 484.2L720.5 487.1L724.3 489.8L728.2 492.4L732.1 494.8L735.9 496.9L739.8 498.6L743.7 500.1L747.5 501.3L751.4 502.5L755.3 503.6L759.1 504.6L763.0 505.5L766.9 506.3L770.7 507.1L774.6 507.9L778.5 508.6L782.3 509.2L786.2 509.8L790.1 510.3L793.9 510.8L797.8 511.3L801.7 511.7L805.5 512.1L809.4 512.5L813.3 512.9L817.1 513.3L821.0 513.6L824.9 513.8L828.7 514.0L832.6 514.2" fill="none" stroke="#3f8a3a" stroke-width="1.6" stroke-linejoin="round"/>
<path d="M217.9 514.2L221.7 514.2L225.6 514.2L229.5 514.2L233.3 514.2L237.2 514.2L241.1 514.1L244.9 514.1L248.8 514.1L252.7 514.1L256.5 514.0L260.4 514.0L264.3 514.0L268.1 513.9L272.0 513.8L275.9 513.7L279.7 513.6L283.6 513.5L287.4 513.3L291.3 513.2L295.2 513.0L299.0 512.8L302.9 512.5L306.8 512.3L310.6 512.0L314.5 511.6L318.4 511.2L322.2 510.8L326.1 510.3L330.0 509.8L333.8 509.3L337.7 508.8L341.6 508.4L345.4 507.9L349.3 507.3L353.2 506.8L357.0 506.2L360.9 505.4L364.8 504.6L368.6 503.6L372.5 502.4L376.4 501.2L380.2 499.7L384.1 498.2L388.0 496.5L391.8 494.7L395.7 492.8L399.6 490.8L403.4 488.8L407.3 486.7L411.2 484.5L415.0 482.3L418.9 480.1L422.8 477.9L426.6 475.6L430.5 473.4L434.4 471.2L438.2 468.9L442.1 466.7L446.0 464.3L449.8 461.9L453.7 459.4L457.6 456.8L461.4 454.0L465.3 451.1L469.2 448.0L473.0 444.7L476.9 441.2L480.8 437.3L484.6 433.2L488.5 428.9L492.4 424.3L496.2 419.5L500.1 414.6L504.0 409.4L507.8 403.9L511.7 398.0L515.6 391.9L519.4 385.6L523.3 379.1L527.2 372.4L531.0 365.5L534.9 358.4L538.8 351.4L542.6 344.4L546.5 337.6L550.4 330.9L554.2 324.2L558.1 317.7L562.0 311.3L565.8 305.2L569.7 299.3L573.6 294.1L577.4 290.3L581.3 288.2L585.2 287.2L589.0 287.0L592.9 287.7L596.8 289.3L600.6 292.3L604.5 296.9L608.4 302.7L612.2 309.1L616.1 316.1L620.0 323.5L623.8 331.3L627.7 339.2L631.6 347.5L635.4 356.0L639.3 364.8L643.2 373.7L647.0 382.6L650.9 391.5L654.8 400.3L658.6 408.9L662.5 417.1L666.3 425.1L670.2 432.8L674.1 440.3L677.9 447.7L681.8 454.8L685.7 461.6L689.5 467.5L693.4 472.4L697.3 476.3L701.1 479.6L705.0 482.6L708.9 485.4L712.7 488.0L716.6 490.5L720.5 492.8L724.3 494.9L728.2 496.7L732.1 498.3L735.9 499.6L739.8 500.8L743.7 501.9L747.5 502.9L751.4 503.8L755.3 504.6L759.1 505.5L763.0 506.2L766.9 506.9L770.7 507.6L774.6 508.2L778.5 508.8L782.3 509.3L786.2 509.8L790.1 510.3L793.9 510.8L797.8 511.2L801.7 511.7L805.5 512.1L809.4 512.5L813.3 512.8L817.1 513.2L821.0 513.5L824.9 513.8L828.7 514.0L832.6 514.2" fill="none" stroke="#3f8a3a" stroke-width="1.6" stroke-linejoin="round"/>
<path d="M127.5 179.4H944.9V676.0" fill="none" stroke="#b9b9b9" stroke-width="1.3"/>
<path d="M127.5 179.4V676.0H944.9" fill="none" stroke="#8a8a8a" stroke-width="1.5"/>
<path d="M146.2 676.0v3.2M200.6 676.0v3.2M254.0 676.0v3.2M308.4 676.0v3.2M361.9 676.0v3.2M416.3 676.0v3.2M469.7 676.0v3.2M524.1 676.0v3.2M577.5 676.0v3.2M632.0 676.0v3.2M685.4 676.0v3.2M739.9 676.0v3.2M793.2 676.0v3.2M847.7 676.0v3.2M901.0 676.0v3.2M127.5 650.4h-3.2M127.5 616.4h-3.2M127.5 582.3h-3.2M127.5 548.2h-3.2M127.5 514.2h-3.2M127.5 480.2h-3.2M127.5 446.1h-3.2M127.5 412.1h-3.2M127.5 378.0h-3.2M127.5 344.0h-3.2M127.5 309.9h-3.2M127.5 275.9h-3.2M127.5 241.8h-3.2M127.5 207.8h-3.2" fill="none" stroke="#8a8a8a" stroke-width="1.2"/>
<text transform="translate(50.02 250.60) scale(0.9552 1)" font-size="31.80" stroke="#000" stroke-width="0.50" stroke-linejoin="round">20.0</text>
<rect x="117.6" y="241.0" width="8.8" height="2.8" fill="#000"/>
<text transform="translate(50.17 317.00) scale(0.9528 1)" font-size="31.80" stroke="#000" stroke-width="0.50" stroke-linejoin="round">15.0</text>
<rect x="117.6" y="307.3" width="8.8" height="2.8" fill="#000"/>
<text transform="translate(50.17 389.40) scale(0.9528 1)" font-size="31.80" stroke="#000" stroke-width="0.50" stroke-linejoin="round">10.0</text>
<rect x="117.6" y="379.6" width="8.8" height="2.8" fill="#000"/>
<text transform="translate(66.82 454.10) scale(0.9565 1)" font-size="31.80" stroke="#000" stroke-width="0.50" stroke-linejoin="round">5.0</text>
<rect x="117.6" y="443.8" width="8.8" height="2.8" fill="#000"/>
<text transform="translate(66.82 522.40) scale(0.9565 1)" font-size="31.80" stroke="#000" stroke-width="0.50" stroke-linejoin="round">0.0</text>
<rect x="117.6" y="512.1" width="8.8" height="2.8" fill="#000"/>
<text transform="translate(56.06 590.10) scale(0.9686 1)" font-size="31.80" stroke="#000" stroke-width="0.50" stroke-linejoin="round">-5.0</text>
<rect x="117.6" y="580.5" width="8.8" height="2.8" fill="#000"/>
<text transform="translate(42.72 662.80) scale(0.9161 1)" font-size="31.80" stroke="#000" stroke-width="0.50" stroke-linejoin="round">-10.0</text>
<rect x="117.6" y="653.2" width="8.8" height="2.8" fill="#000"/>
<text transform="translate(177.33 715.10) scale(0.9513 1)" font-size="32.20" stroke="#000" stroke-width="0.50" stroke-linejoin="round">75.0</text>
<text transform="translate(282.22 715.10) scale(0.9580 1)" font-size="32.20" stroke="#000" stroke-width="0.50" stroke-linejoin="round">76.0</text>
<text transform="translate(395.23 715.10) scale(0.9513 1)" font-size="32.20" stroke="#000" stroke-width="0.50" stroke-linejoin="round">77.0</text>
<text transform="translate(507.83 715.10) scale(0.9497 1)" font-size="32.20" stroke="#000" stroke-width="0.50" stroke-linejoin="round">78.0</text>
<text transform="translate(612.63 715.10) scale(0.9497 1)" font-size="32.20" stroke="#000" stroke-width="0.50" stroke-linejoin="round">79.0</text>
<text transform="translate(725.03 715.10) scale(0.9529 1)" font-size="32.20" stroke="#000" stroke-width="0.50" stroke-linejoin="round">80.0</text>
<text transform="translate(830.13 715.10) scale(0.9545 1)" font-size="32.20" stroke="#000" stroke-width="0.50" stroke-linejoin="round">81.0</text>
<text transform="translate(29.40 530.20) rotate(-90) scale(0.9335 1)" font-size="35.50" font-weight="bold" stroke="#000" stroke-width="0.50" stroke-linejoin="round">Difference</text>
<text transform="translate(415.00 771.20) scale(0.9558 1)" font-size="35.00" font-weight="bold" stroke="#000" stroke-width="0.50" stroke-linejoin="round">Temperature ºC</text>
<text transform="translate(57.80 140.20) scale(0.9663 1)" font-size="58.50" font-weight="bold" fill="#1c1c1c">a</text>
<rect x="803" y="248.7" width="24" height="22.4" fill="#6a9469"/>
<clipPath id="nf1" clipPathUnits="userSpaceOnUse"><path d="M-50 -44.0H101.0V-2.99H-50ZM-50.00 -3.19H39.41V22.0H-50.00ZM44.10 -3.19H46.34V22.0H44.10ZM50.79 -3.19H100.95V22.0H50.79Z"/></clipPath>
<g transform="translate(843.54 265.90) scale(1.0096 1)" clip-path="url(#nf1)"><text font-size="22.00" stroke="#000" stroke-width="0.30" stroke-linejoin="round">Var 1</text></g>
<rect x="803" y="284.6" width="24" height="22.4" fill="#2457ab"/>
<text transform="translate(843.54 304.20) scale(1.0096 1)" font-size="22.00" stroke="#000" stroke-width="0.30" stroke-linejoin="round">Var 2</text>
<rect x="803" y="321.5" width="24" height="22.4" fill="#9c1111"/>
<text transform="translate(843.54 342.70) scale(1.0096 1)" font-size="22.00" stroke="#000" stroke-width="0.30" stroke-linejoin="round">Var 3</text>
</g>
<g id="panel-b">
<path d="M1163.1 607.2H1891.4M1163.1 519.2H1891.4M1163.1 431.3H1891.4M1163.1 343.3H1891.4M1163.1 255.4H1891.4M1163.1 167.4H1891.4" fill="none" stroke="#000" stroke-width="2.3" stroke-dasharray="8.8 2.775"/>
<rect x="1220.1" y="456.5" width="109.4" height="238.6" fill="#0f7a04" stroke="#000" stroke-width="2.4"/>
<rect x="1388.2" y="236.6" width="109.1" height="458.6" fill="#0000ff" stroke="#000" stroke-width="2.4"/>
<rect x="1556.0" y="676.6" width="110.1" height="18.6" fill="#0000ff" stroke="#000" stroke-width="2.4"/>
<rect x="1724.3" y="536.4" width="109.3" height="158.7" fill="#ff0000" stroke="#000" stroke-width="2.4"/>
<path d="M1162.8 164.1V698.6" fill="none" stroke="#000" stroke-width="6.6"/>
<path d="M1138.8 695.1H1891.4" fill="none" stroke="#000" stroke-width="7"/>
<path d="M1138.8 607.2H1162.8M1138.8 519.2H1162.8M1138.8 431.3H1162.8M1138.8 343.3H1162.8M1138.8 255.4H1162.8M1138.8 167.4H1162.8" fill="none" stroke="#000" stroke-width="6.7"/>
<text transform="translate(1068.11 711.85) scale(0.9731 1)" font-size="51.00" font-weight="bold" stroke="#000" stroke-width="0.40" stroke-linejoin="round">0.0</text>
<clipPath id="nf2" clipPathUnits="userSpaceOnUse"><path d="M-50 -102.0H120.9V-6.60H-50ZM-50.00 -6.80H43.92V51.0H-50.00ZM54.24 -6.80H61.64V51.0H54.24ZM71.09 -6.80H120.90V51.0H71.09Z"/></clipPath>
<g transform="translate(1068.11 623.90) scale(0.9731 1)" clip-path="url(#nf2)"><text font-size="51.00" font-weight="bold" stroke="#000" stroke-width="0.40" stroke-linejoin="round">0.1</text></g>
<text transform="translate(1068.11 535.95) scale(0.9731 1)" font-size="51.00" font-weight="bold" stroke="#000" stroke-width="0.40" stroke-linejoin="round">0.2</text>
<text transform="translate(1068.11 448.00) scale(0.9731 1)" font-size="51.00" font-weight="bold" stroke="#000" stroke-width="0.40" stroke-linejoin="round">0.3</text>
<text transform="translate(1068.11 360.05) scale(0.9731 1)" font-size="51.00" font-weight="bold" stroke="#000" stroke-width="0.40" stroke-linejoin="round">0.4</text>
<text transform="translate(1068.11 272.10) scale(0.9731 1)" font-size="51.00" font-weight="bold" stroke="#000" stroke-width="0.40" stroke-linejoin="round">0.5</text>
<text transform="translate(1068.11 184.15) scale(0.9731 1)" font-size="51.00" font-weight="bold" stroke="#000" stroke-width="0.40" stroke-linejoin="round">0.6</text>
<text transform="translate(1042.30 691.55) rotate(-90) scale(0.9617 1)" font-size="51.80" font-weight="bold" stroke="#000" stroke-width="0.50" stroke-linejoin="round">Genotypic frequencies</text>
<text transform="translate(1209.78 756.10) scale(0.9565 1)" font-size="52.70" stroke="#000" stroke-width="0.50" stroke-linejoin="round">II+CC</text>
<text transform="translate(1370.41 756.10) scale(0.9526 1)" font-size="52.70" stroke="#000" stroke-width="0.50" stroke-linejoin="round">TI+CC</text>
<text transform="translate(1543.49 756.10) scale(0.9546 1)" font-size="52.70" stroke="#000" stroke-width="0.50" stroke-linejoin="round">II+FC</text>
<text transform="translate(1705.51 756.10) scale(0.9538 1)" font-size="52.70" stroke="#000" stroke-width="0.50" stroke-linejoin="round">TT+CC</text>
<clipPath id="nf3" clipPathUnits="userSpaceOnUse"><path d="M-50 -105.4H649.2V-5.39H-50ZM-50.00 -5.59H288.95V52.7H-50.00ZM300.08 -5.59H305.24V52.7H300.08ZM315.77 -5.59H466.25V52.7H315.77ZM477.39 -5.59H482.54V52.7H477.39ZM493.08 -5.59H649.17V52.7H493.08Z"/></clipPath>
<g transform="translate(1231.94 837.40) scale(0.9482 1)" clip-path="url(#nf3)"><text font-size="52.70" stroke="#000" stroke-width="0.50" stroke-linejoin="round">Genotypes (1520 + 1534)</text></g>
<text transform="translate(995.15 105.20) scale(1.0445 1)" font-size="58.20" font-weight="bold" fill="#1c1c1c">b</text>
</g>
<g id="panel-c">
<rect x="1530.3" y="2.5" width="476.7" height="502.4" fill="#ffffff" stroke="#000" stroke-width="3.1"/>
<path d="M1700.70 282.55L1700.70 129.95A152.60 152.60 0 0 1 1743.27 429.09Z" fill="#ff8010" stroke="#000" stroke-width="1.2" stroke-linejoin="round"/>
<path d="M1700.70 282.55L1743.27 429.09A152.60 152.60 0 1 1 1690.16 130.31Z" fill="#7b0000" stroke="#000" stroke-width="1.2" stroke-linejoin="round"/>
<path d="M1700.70 282.55L1690.16 130.31A152.60 152.60 0 0 1 1700.70 129.95Z" fill="#ffcc66" stroke="#000" stroke-width="1.2" stroke-linejoin="round"/>
<circle cx="1700.7" cy="282.6" r="152.6" fill="none" stroke="#000" stroke-width="1.6"/>
<path d="M1702.2 134.2L1742.9 91.6" fill="none" stroke="#000" stroke-width="1.4"/>
<clipPath id="nf4" clipPathUnits="userSpaceOnUse"><path d="M-50 -86.0H154.4V-4.61H-50ZM-50.00 -4.81H61.31V43.0H-50.00ZM70.39 -4.81H74.59V43.0H70.39ZM91.12 -4.81H95.31V43.0H91.12ZM103.91 -4.81H154.42V43.0H103.91Z"/></clipPath>
<g transform="translate(1744.94 96.90) scale(0.9600 1)" clip-path="url(#nf4)"><text font-size="43.00" stroke="#000" stroke-width="0.40" stroke-linejoin="round">0.011</text></g>
<text transform="translate(1735.42 281.30) scale(0.9716 1)" font-size="43.00" fill="#ffffff" stroke="#ffffff" stroke-width="0.40" stroke-linejoin="round">0.455</text>
<text transform="translate(1591.94 325.70) scale(0.9638 1)" font-size="43.00" fill="#ffffff" stroke="#ffffff" stroke-width="0.40" stroke-linejoin="round">0.534</text>
<rect x="1878.9" y="105.0" width="32.3" height="35.7" fill="#ffcc66" stroke="#000" stroke-width="2"/>
<text transform="translate(1929.76 136.70) scale(0.9410 1)" font-size="44.00" stroke="#000" stroke-width="0.40" stroke-linejoin="round">TF</text>
<rect x="1878.9" y="156.0" width="32.3" height="35.7" fill="#ff8010" stroke="#000" stroke-width="2"/>
<text transform="translate(1929.75 187.10) scale(0.9506 1)" font-size="44.00" stroke="#000" stroke-width="0.40" stroke-linejoin="round">TC</text>
<rect x="1878.9" y="207.4" width="32.3" height="35.7" fill="#7b0000" stroke="#000" stroke-width="2"/>
<text transform="translate(1929.23 239.10) scale(0.9749 1)" font-size="44.00" stroke="#000" stroke-width="0.40" stroke-linejoin="round">IC</text>
<text transform="translate(1592.99 486.00) scale(0.9768 1)" font-size="44.50" stroke="#000" stroke-width="0.40" stroke-linejoin="round">Allelic frequencies</text>
<text transform="translate(1563.62 64.60) scale(1.0256 1)" font-size="58.00" font-weight="bold" fill="#1c1c1c">c</text>
</g>
</svg>
</body>
</html>
